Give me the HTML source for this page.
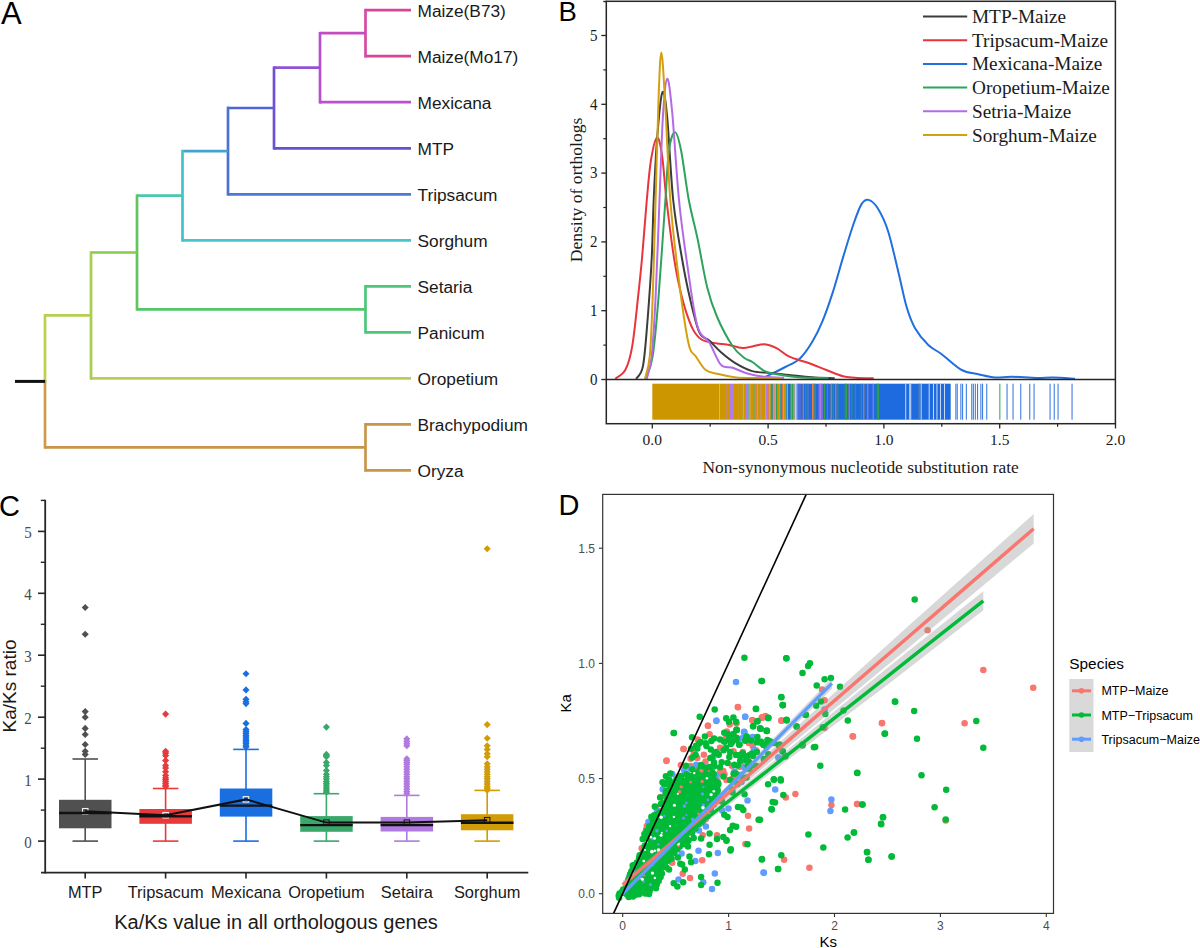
<!DOCTYPE html>
<html><head><meta charset="utf-8"><style>
html,body{margin:0;padding:0;background:#fff;width:1200px;height:948px;overflow:hidden}
svg{display:block}
</style></head><body>
<svg width="1200" height="948" viewBox="0 0 1200 948">
<rect width="1200" height="948" fill="#fff"/>
<line x1="365.5" y1="10.2" x2="411" y2="10.2" stroke="#d9449a" stroke-width="2.7"/>
<line x1="365.5" y1="56.2" x2="411" y2="56.2" stroke="#d9449a" stroke-width="2.7"/>
<line x1="365.5" y1="8.8" x2="365.5" y2="57.6" stroke="#d24aa6" stroke-width="2.7"/>
<line x1="320" y1="33.2" x2="365.5" y2="33.2" stroke="#c44cc0" stroke-width="2.7"/>
<line x1="320" y1="102.2" x2="411" y2="102.2" stroke="#bb4fd0" stroke-width="2.7"/>
<line x1="320" y1="31.9" x2="320" y2="103.6" stroke="#b750cf" stroke-width="2.7"/>
<line x1="274" y1="67.7" x2="320" y2="67.7" stroke="#9352d6" stroke-width="2.7"/>
<line x1="274" y1="148.3" x2="411" y2="148.3" stroke="#6650d2" stroke-width="2.7"/>
<line x1="274" y1="66.4" x2="274" y2="149.6" stroke="#7150d4" stroke-width="2.7"/>
<line x1="228" y1="108" x2="274" y2="108" stroke="#5362d4" stroke-width="2.7"/>
<line x1="228" y1="194.3" x2="411" y2="194.3" stroke="#4a7ad4" stroke-width="2.7"/>
<line x1="228" y1="106.6" x2="228" y2="195.6" stroke="#4a72d4" stroke-width="2.7"/>
<line x1="182.5" y1="151.1" x2="228" y2="151.1" stroke="#47a2d0" stroke-width="2.7"/>
<line x1="182.5" y1="240.3" x2="411" y2="240.3" stroke="#45c6cf" stroke-width="2.7"/>
<line x1="182.5" y1="149.8" x2="182.5" y2="241.7" stroke="#44c2cc" stroke-width="2.7"/>
<line x1="137" y1="195.7" x2="182.5" y2="195.7" stroke="#4ac8ac" stroke-width="2.7"/>
<line x1="365.5" y1="286.3" x2="411" y2="286.3" stroke="#4cc77a" stroke-width="2.7"/>
<line x1="365.5" y1="332.3" x2="411" y2="332.3" stroke="#4cc77a" stroke-width="2.7"/>
<line x1="365.5" y1="285" x2="365.5" y2="333.7" stroke="#4cc77a" stroke-width="2.7"/>
<line x1="137" y1="309.3" x2="365.5" y2="309.3" stroke="#52c66a" stroke-width="2.7"/>
<line x1="137" y1="194.4" x2="137" y2="310.7" stroke="#5ec65c" stroke-width="2.7"/>
<line x1="91" y1="252.5" x2="137" y2="252.5" stroke="#86ca50" stroke-width="2.7"/>
<line x1="91" y1="378.4" x2="411" y2="378.4" stroke="#bad052" stroke-width="2.7"/>
<line x1="91" y1="251.2" x2="91" y2="379.7" stroke="#a6cf50" stroke-width="2.7"/>
<line x1="45" y1="315.4" x2="91" y2="315.4" stroke="#b4d050" stroke-width="2.7"/>
<line x1="45" y1="314.1" x2="45" y2="382.8" stroke="#bcd050" stroke-width="2.7"/>
<line x1="45" y1="380.1" x2="45" y2="448.7" stroke="#cf9a4c" stroke-width="2.7"/>
<line x1="45" y1="447.4" x2="365.5" y2="447.4" stroke="#c9954a" stroke-width="2.7"/>
<line x1="365.5" y1="423" x2="365.5" y2="471.8" stroke="#c9954a" stroke-width="2.7"/>
<line x1="365.5" y1="424.4" x2="411" y2="424.4" stroke="#c9954a" stroke-width="2.7"/>
<line x1="365.5" y1="470.4" x2="411" y2="470.4" stroke="#c9954a" stroke-width="2.7"/>
<line x1="15" y1="381.4" x2="45" y2="381.4" stroke="#111" stroke-width="3"/>
<text x="417.5" y="17.2" font-family="'Liberation Sans', sans-serif" font-size="17.3" fill="#1a1a1a">Maize(B73)</text>
<text x="417.5" y="63.2" font-family="'Liberation Sans', sans-serif" font-size="17.3" fill="#1a1a1a">Maize(Mo17)</text>
<text x="417.5" y="109.2" font-family="'Liberation Sans', sans-serif" font-size="17.3" fill="#1a1a1a">Mexicana</text>
<text x="417.5" y="155.3" font-family="'Liberation Sans', sans-serif" font-size="17.3" fill="#1a1a1a">MTP</text>
<text x="417.5" y="201.3" font-family="'Liberation Sans', sans-serif" font-size="17.3" fill="#1a1a1a">Tripsacum</text>
<text x="417.5" y="247.3" font-family="'Liberation Sans', sans-serif" font-size="17.3" fill="#1a1a1a">Sorghum</text>
<text x="417.5" y="293.3" font-family="'Liberation Sans', sans-serif" font-size="17.3" fill="#1a1a1a">Setaria</text>
<text x="417.5" y="339.3" font-family="'Liberation Sans', sans-serif" font-size="17.3" fill="#1a1a1a">Panicum</text>
<text x="417.5" y="385.4" font-family="'Liberation Sans', sans-serif" font-size="17.3" fill="#1a1a1a">Oropetium</text>
<text x="417.5" y="431.4" font-family="'Liberation Sans', sans-serif" font-size="17.3" fill="#1a1a1a">Brachypodium</text>
<text x="417.5" y="477.4" font-family="'Liberation Sans', sans-serif" font-size="17.3" fill="#1a1a1a">Oryza</text>
<text x="1" y="23.6" font-family="'Liberation Sans', sans-serif" font-size="31" fill="#000">A</text>
<rect x="652.3" y="383.7" width="67.2" height="36" fill="#cc9600"/>
<rect x="719.3" y="383.7" width="0.9" height="36" fill="#e0a868"/>
<rect x="720" y="383.7" width="6.2" height="36" fill="#cc9600"/>
<rect x="726" y="383.7" width="2.1" height="36" fill="#c98a55"/>
<rect x="728" y="383.7" width="2.1" height="36" fill="#cc9600"/>
<rect x="730" y="383.7" width="4.2" height="36" fill="#b37be6"/>
<rect x="734" y="383.7" width="4.9" height="36" fill="#cc9600"/>
<rect x="738.7" y="383.7" width="1.4" height="36" fill="#d68040"/>
<rect x="740" y="383.7" width="2.9" height="36" fill="#cc9600"/>
<rect x="742.7" y="383.7" width="0.9" height="36" fill="#9a9a48"/>
<rect x="743.5" y="383.7" width="2.6" height="36" fill="#cc9600"/>
<rect x="746" y="383.7" width="2.4" height="36" fill="#b37be6"/>
<rect x="748.3" y="383.7" width="1.1" height="36" fill="#40a080"/>
<rect x="749.2" y="383.7" width="1.6" height="36" fill="#cc9600"/>
<rect x="750.7" y="383.7" width="1.4" height="36" fill="#e08040"/>
<rect x="752" y="383.7" width="1.4" height="36" fill="#cc9600"/>
<rect x="753.3" y="383.7" width="1.5" height="36" fill="#30a050"/>
<rect x="754.6" y="383.7" width="1.5" height="36" fill="#cc9600"/>
<rect x="756" y="383.7" width="1.4" height="36" fill="#e08040"/>
<rect x="757.3" y="383.7" width="3.6" height="36" fill="#cc9600"/>
<rect x="760.7" y="383.7" width="1.4" height="36" fill="#b37be6"/>
<rect x="762" y="383.7" width="3.4" height="36" fill="#cc9600"/>
<rect x="765.3" y="383.7" width="2.9" height="36" fill="#b37be6"/>
<rect x="768" y="383.7" width="1.4" height="36" fill="#e08040"/>
<rect x="769.3" y="383.7" width="1.6" height="36" fill="#cc9600"/>
<rect x="770.7" y="383.7" width="2.7" height="36" fill="#409090"/>
<rect x="773.3" y="383.7" width="1.6" height="36" fill="#e08040"/>
<rect x="774.7" y="383.7" width="0.9" height="36" fill="#b37be6"/>
<rect x="775.5" y="383.7" width="0.7" height="36" fill="#cc9600"/>
<rect x="776" y="383.7" width="1.4" height="36" fill="#30a050"/>
<rect x="777.3" y="383.7" width="0.9" height="36" fill="#4080e0"/>
<rect x="778" y="383.7" width="1.4" height="36" fill="#cc9600"/>
<rect x="779.3" y="383.7" width="1.9" height="36" fill="#40a090"/>
<rect x="781" y="383.7" width="1.1" height="36" fill="#30a050"/>
<rect x="782" y="383.7" width="1.4" height="36" fill="#e07040"/>
<rect x="783.3" y="383.7" width="2.1" height="36" fill="#cc9600"/>
<rect x="785.3" y="383.7" width="1.6" height="36" fill="#409090"/>
<rect x="786.7" y="383.7" width="0.7" height="36" fill="#1e6be0"/>
<rect x="787.3" y="383.7" width="0.9" height="36" fill="#b37be6"/>
<rect x="788" y="383.7" width="2.1" height="36" fill="#1e6be0"/>
<rect x="790" y="383.7" width="1.6" height="36" fill="#409090"/>
<rect x="791.5" y="383.7" width="1.6" height="36" fill="#30a050"/>
<rect x="793" y="383.7" width="1.6" height="36" fill="#e08040"/>
<rect x="794.5" y="383.7" width="1.1" height="36" fill="#409090"/>
<rect x="795.5" y="383.7" width="1.1" height="36" fill="#f4f4ff"/>
<rect x="796.5" y="383.7" width="154.2" height="36" fill="#1e6be0"/>
<rect x="797.3" y="383.7" width="1" height="36" fill="#b37be6"/>
<rect x="799.5" y="383.7" width="1" height="36" fill="#7a6ae0"/>
<rect x="802.7" y="383.7" width="1" height="36" fill="#e08040"/>
<rect x="805.3" y="383.7" width="1" height="36" fill="#30a050"/>
<rect x="807.5" y="383.7" width="1" height="36" fill="#6a70e0"/>
<rect x="812" y="383.7" width="1" height="36" fill="#e08040"/>
<rect x="813.3" y="383.7" width="1" height="36" fill="#e08040"/>
<rect x="814.7" y="383.7" width="1" height="36" fill="#30a050"/>
<rect x="818.7" y="383.7" width="1" height="36" fill="#b37be6"/>
<rect x="820" y="383.7" width="1" height="36" fill="#b37be6"/>
<rect x="821.5" y="383.7" width="1" height="36" fill="#b37be6"/>
<rect x="824" y="383.7" width="1" height="36" fill="#30a050"/>
<rect x="827" y="383.7" width="1" height="36" fill="#409090"/>
<rect x="830.7" y="383.7" width="1" height="36" fill="#e08040"/>
<rect x="832.7" y="383.7" width="1" height="36" fill="#30a050"/>
<rect x="835.3" y="383.7" width="1" height="36" fill="#e08040"/>
<rect x="837.3" y="383.7" width="1" height="36" fill="#30a050"/>
<rect x="844.7" y="383.7" width="1" height="36" fill="#30a050"/>
<rect x="846" y="383.7" width="1" height="36" fill="#30a050"/>
<rect x="848.7" y="383.7" width="1" height="36" fill="#e08040"/>
<rect x="851.3" y="383.7" width="1" height="36" fill="#30a050"/>
<rect x="854.7" y="383.7" width="1" height="36" fill="#409090"/>
<rect x="860.7" y="383.7" width="1" height="36" fill="#409090"/>
<rect x="863.3" y="383.7" width="1" height="36" fill="#e08040"/>
<rect x="867.3" y="383.7" width="1" height="36" fill="#b37be6"/>
<rect x="872.7" y="383.7" width="1" height="36" fill="#b37be6"/>
<rect x="876.7" y="383.7" width="1" height="36" fill="#30a050"/>
<rect x="878" y="383.7" width="1" height="36" fill="#30a050"/>
<rect x="905.3" y="383.7" width="0.9" height="36" fill="#d8e6fb"/>
<rect x="909.3" y="383.7" width="0.9" height="36" fill="#d8e6fb"/>
<rect x="910.3" y="383.7" width="0.9" height="36" fill="#d8e6fb"/>
<rect x="920.7" y="383.7" width="0.9" height="36" fill="#d8e6fb"/>
<rect x="928.7" y="383.7" width="0.9" height="36" fill="#d8e6fb"/>
<rect x="933" y="383.7" width="0.9" height="36" fill="#d8e6fb"/>
<rect x="936.5" y="383.7" width="0.9" height="36" fill="#d8e6fb"/>
<rect x="940" y="383.7" width="0.9" height="36" fill="#d8e6fb"/>
<rect x="944" y="383.7" width="0.9" height="36" fill="#d8e6fb"/>
<rect x="918.7" y="383.7" width="1" height="36" fill="#7a8a60"/>
<rect x="955.3" y="383.7" width="1.1" height="36" fill="#3f7fe6"/>
<rect x="956.7" y="383.7" width="1.1" height="36" fill="#3f7fe6"/>
<rect x="960.3" y="383.7" width="1.1" height="36" fill="#3f7fe6"/>
<rect x="962" y="383.7" width="1.1" height="36" fill="#3f7fe6"/>
<rect x="965.8" y="383.7" width="1.1" height="36" fill="#3f7fe6"/>
<rect x="971.2" y="383.7" width="1.1" height="36" fill="#3f7fe6"/>
<rect x="972.8" y="383.7" width="1.1" height="36" fill="#3f7fe6"/>
<rect x="974.8" y="383.7" width="1.1" height="36" fill="#3f7fe6"/>
<rect x="977" y="383.7" width="1.1" height="36" fill="#3f7fe6"/>
<rect x="980.3" y="383.7" width="1.1" height="36" fill="#3f7fe6"/>
<rect x="982" y="383.7" width="1.1" height="36" fill="#3f7fe6"/>
<rect x="986.2" y="383.7" width="1.1" height="36" fill="#3f7fe6"/>
<rect x="1006.5" y="383.7" width="1.1" height="36" fill="#3f7fe6"/>
<rect x="1012.5" y="383.7" width="1.1" height="36" fill="#3f7fe6"/>
<rect x="1020.2" y="383.7" width="1.1" height="36" fill="#3f7fe6"/>
<rect x="1029.2" y="383.7" width="1.1" height="36" fill="#3f7fe6"/>
<rect x="1033.5" y="383.7" width="1.1" height="36" fill="#3f7fe6"/>
<rect x="1049.5" y="383.7" width="1.1" height="36" fill="#3f7fe6"/>
<rect x="1053.7" y="383.7" width="1.1" height="36" fill="#3f7fe6"/>
<rect x="1057.5" y="383.7" width="1.1" height="36" fill="#3f7fe6"/>
<rect x="1071.5" y="383.7" width="1.1" height="36" fill="#3f7fe6"/>
<rect x="999.3" y="383.7" width="1.1" height="36" fill="#3aa860"/>
<path d="M764.7 377.4 C765.7 376.9 767.5 375.9 770.9 374.2 C774.3 372.5 780.5 369.6 785.3 367 C790.1 364.4 795.2 362.8 799.7 358.7 C804.2 354.6 808.2 348.5 812 342.3 C815.8 336.1 818.9 329.9 822.3 321.7 C825.7 313.5 829.2 303.5 832.6 292.9 C836 282.3 839.5 269.2 842.9 257.9 C846.3 246.6 850.1 233.9 853.2 225 C856.3 216.1 858.8 208.6 861.4 204.4 C864 200.2 865.9 199.2 868.6 199.9 C871.4 200.6 874.6 203.3 877.9 208.5 C881.1 213.7 884.7 220.6 888.1 231.2 C891.5 241.8 895.3 259.6 898.4 272.3 C901.5 285 904 298 906.7 307.3 C909.5 316.6 911.3 321.6 914.9 327.9 C918.5 334.2 923.8 340.6 928.3 345 C932.8 349.4 936.1 350 941.7 354.2 C947.3 358.4 955.6 366.7 961.7 370 C967.8 373.3 972.8 372.9 978.3 374.2 C983.8 375.4 989.4 377.1 995 377.5 C1000.6 377.9 1004.8 376.6 1011.7 376.7 C1018.7 376.8 1029.8 377.9 1036.7 378 C1043.6 378.1 1046.9 377.4 1053.3 377.5 C1059.7 377.6 1071.4 378.5 1075 378.7" fill="none" stroke="#1f6fe0" stroke-width="2"/>
<path d="M615.2 378.8 C616.9 377.3 622.6 375.2 625.4 369.8 C628.2 364.4 630.1 358.3 632.2 346.3 C634.3 334.3 636.4 312.2 638 297.6 C639.6 283 640.5 274.8 642 258.5 C643.5 242.2 645.3 216.4 646.8 200 C648.3 183.6 649.3 170.4 651 160 C652.7 149.6 655.2 138.4 657 137.6 C658.8 136.8 660.4 144.6 662 155 C663.6 165.4 664.5 182.8 666.5 200 C668.5 217.2 671.5 242.2 674.1 258.5 C676.7 274.8 679.1 286.2 682 297.6 C684.9 309 688.5 319.8 691.7 326.8 C695 333.8 697.3 336.7 701.5 339.5 C705.7 342.3 712.8 342.6 717 343.4 C721.2 344.2 722.6 343.6 726.8 344.4 C731 345.1 738.1 347.6 742.4 347.9 C746.6 348.2 748.6 347 752.3 346.4 C756 345.8 760.6 344 764.7 344.3 C768.8 344.6 772.9 346.3 777 348.4 C781.1 350.5 784.2 354.3 789.4 356.7 C794.5 359.1 801.7 360.6 807.9 362.8 C814.1 365 820.6 367.8 826.4 370 C832.2 372.2 838.1 374.9 842.9 376.2 C847.7 377.5 850.1 377.3 855.2 377.7 C860.3 378.1 870.6 378.2 873.7 378.3" fill="none" stroke="#e8343a" stroke-width="2"/>
<path d="M636.1 378.8 C637.2 376.6 641 376.2 643 365.9 C645 355.6 646.3 334.9 647.8 317 C649.2 299.1 650.7 278 651.7 258.5 C652.7 239 652.8 219.8 653.7 200 C654.6 180.2 655.6 157.9 657 140 C658.4 122.1 660.5 97 662.2 92.8 C663.9 88.6 665.2 97.1 667 115 C668.8 132.9 670.7 176.1 673.2 200 C675.7 223.9 679.2 242.2 682 258.5 C684.8 274.8 686.9 285.2 689.8 297.6 C692.7 310 696.2 325.6 699.5 332.7 C702.8 339.8 705.7 337.2 709.3 340.5 C712.9 343.8 716.5 348.3 721 352.2 C725.5 356.1 731.4 360.8 736.6 363.9 C741.8 367 746.6 369.6 752.3 371.1 C758 372.6 764.4 372.4 770.9 373.1 C777.4 373.8 784.5 374.5 791.4 375.2 C798.2 375.9 804.8 376.7 812 377.2 C819.2 377.7 830.9 378.1 834.7 378.3" fill="none" stroke="#3c3c3c" stroke-width="2"/>
<path d="M645.9 378.8 C647 375 650.6 369.5 652.7 356 C654.8 342.5 656.4 323.6 658.5 297.6 C660.6 271.6 663.6 224.6 665.4 200 C667.1 175.4 667.4 161.3 669 150 C670.6 138.7 673 132.2 675 132.2 C677 132.2 678.7 138.7 681 150 C683.3 161.3 686 185.2 688.8 200 C691.6 214.8 694.5 224.4 697.6 239 C700.7 253.6 704 274.8 707.3 287.8 C710.5 300.8 712.9 307.2 717.1 317 C721.3 326.8 728.2 339.5 732.7 346.3 C737.2 353.1 741.1 355.4 744.4 358 C747.7 360.6 748.9 359.8 752.3 362 C755.7 364.2 760.6 369.1 764.7 371.1 C768.8 373.1 771.5 373.2 777 374.2 C782.5 375.2 789 376.5 797.6 377.2 C806.2 377.9 823.4 378.1 828.5 378.3" fill="none" stroke="#2ea35c" stroke-width="2"/>
<path d="M646.8 378.8 C647.6 375 650.2 369.5 651.7 356 C653.2 342.5 654.3 323.6 655.6 297.6 C656.9 271.6 658.3 230.4 659.5 200 C660.7 169.6 661.7 135.2 663 115 C664.3 94.8 665.6 79.6 667.1 78.8 C668.6 78 670 89.8 672 110 C674 130.2 676.4 173.6 679 200 C681.6 226.4 684.7 247.2 687.8 268.3 C690.9 289.4 694 314.5 697.6 326.8 C701.2 339.1 705.4 336 709.3 342.4 C713.2 348.8 717.1 360.7 721 364.9 C724.9 369.1 728.2 366.3 732.7 367.8 C737.2 369.3 743 372.2 748.3 373.7 C753.6 375.2 758.7 376.1 764.7 376.8 C770.7 377.5 781 377.6 784.2 377.7" fill="none" stroke="#b46ae6" stroke-width="2"/>
<path d="M644.9 378.8 C645.7 375 648.5 369.5 649.8 356 C651.1 342.5 651.7 323.6 652.7 297.6 C653.7 271.6 654.6 232.9 655.6 200 C656.6 167.1 657.5 124.6 658.5 100 C659.5 75.4 660.2 52.4 661.3 52.4 C662.4 52.4 663.5 75.4 665 100 C666.5 124.6 668.2 171.9 670.3 200 C672.4 228.1 675.2 248.8 677.5 268.3 C679.8 287.8 681.9 303.7 683.9 317 C685.9 330.3 687.8 341.8 689.8 348.3 C691.8 354.8 693 352.5 695.6 356.1 C698.2 359.7 701.8 366.9 705.4 369.8 C709 372.7 711.8 372.4 717 373.7 C722.2 375 729.3 376.9 736.6 377.6 C743.9 378.3 753 377.8 760.6 377.9 C768.2 378 778.4 378.2 782 378.3" fill="none" stroke="#d4a012" stroke-width="2"/>
<rect x="606.3" y="1.3" width="509.1" height="422.4" fill="none" stroke="#262626" stroke-width="1.5"/>
<line x1="603.3" y1="1.5" x2="607" y2="1.5" stroke="#262626" stroke-width="1.4"/>
<line x1="606.3" y1="379.5" x2="1115.4" y2="379.5" stroke="#262626" stroke-width="1.6"/>
<line x1="601.3" y1="379.5" x2="606.3" y2="379.5" stroke="#262626" stroke-width="1.3"/>
<text transform="translate(597.5 384.7) scale(1 1.17)" font-family="'Liberation Serif', serif" font-size="15" fill="#1a1a1a" text-anchor="end">0</text>
<line x1="601.3" y1="310.7" x2="606.3" y2="310.7" stroke="#262626" stroke-width="1.3"/>
<text transform="translate(597.5 315.9) scale(1 1.17)" font-family="'Liberation Serif', serif" font-size="15" fill="#1a1a1a" text-anchor="end">1</text>
<line x1="601.3" y1="241.9" x2="606.3" y2="241.9" stroke="#262626" stroke-width="1.3"/>
<text transform="translate(597.5 247.1) scale(1 1.17)" font-family="'Liberation Serif', serif" font-size="15" fill="#1a1a1a" text-anchor="end">2</text>
<line x1="601.3" y1="173.1" x2="606.3" y2="173.1" stroke="#262626" stroke-width="1.3"/>
<text transform="translate(597.5 178.3) scale(1 1.17)" font-family="'Liberation Serif', serif" font-size="15" fill="#1a1a1a" text-anchor="end">3</text>
<line x1="601.3" y1="104.3" x2="606.3" y2="104.3" stroke="#262626" stroke-width="1.3"/>
<text transform="translate(597.5 109.5) scale(1 1.17)" font-family="'Liberation Serif', serif" font-size="15" fill="#1a1a1a" text-anchor="end">4</text>
<line x1="601.3" y1="35.5" x2="606.3" y2="35.5" stroke="#262626" stroke-width="1.3"/>
<text transform="translate(597.5 40.7) scale(1 1.17)" font-family="'Liberation Serif', serif" font-size="15" fill="#1a1a1a" text-anchor="end">5</text>
<line x1="603.3" y1="345.1" x2="606.3" y2="345.1" stroke="#262626" stroke-width="1.2"/>
<line x1="603.3" y1="276.3" x2="606.3" y2="276.3" stroke="#262626" stroke-width="1.2"/>
<line x1="603.3" y1="207.5" x2="606.3" y2="207.5" stroke="#262626" stroke-width="1.2"/>
<line x1="603.3" y1="138.7" x2="606.3" y2="138.7" stroke="#262626" stroke-width="1.2"/>
<line x1="603.3" y1="69.9" x2="606.3" y2="69.9" stroke="#262626" stroke-width="1.2"/>
<line x1="652.3" y1="423.7" x2="652.3" y2="428.5" stroke="#262626" stroke-width="1.3"/>
<text x="652.3" y="445.3" font-family="'Liberation Serif', serif" font-size="15.5" fill="#1a1a1a" text-anchor="middle">0.0</text>
<line x1="768.1" y1="423.7" x2="768.1" y2="428.5" stroke="#262626" stroke-width="1.3"/>
<text x="768.1" y="445.3" font-family="'Liberation Serif', serif" font-size="15.5" fill="#1a1a1a" text-anchor="middle">0.5</text>
<line x1="883.9" y1="423.7" x2="883.9" y2="428.5" stroke="#262626" stroke-width="1.3"/>
<text x="883.9" y="445.3" font-family="'Liberation Serif', serif" font-size="15.5" fill="#1a1a1a" text-anchor="middle">1.0</text>
<line x1="999.7" y1="423.7" x2="999.7" y2="428.5" stroke="#262626" stroke-width="1.3"/>
<text x="999.7" y="445.3" font-family="'Liberation Serif', serif" font-size="15.5" fill="#1a1a1a" text-anchor="middle">1.5</text>
<line x1="1115.5" y1="423.7" x2="1115.5" y2="428.5" stroke="#262626" stroke-width="1.3"/>
<text x="1115.5" y="445.3" font-family="'Liberation Serif', serif" font-size="15.5" fill="#1a1a1a" text-anchor="middle">2.0</text>
<line x1="710.2" y1="423.7" x2="710.2" y2="426.8" stroke="#262626" stroke-width="1.2"/>
<line x1="826" y1="423.7" x2="826" y2="426.8" stroke="#262626" stroke-width="1.2"/>
<line x1="941.8" y1="423.7" x2="941.8" y2="426.8" stroke="#262626" stroke-width="1.2"/>
<line x1="1057.6" y1="423.7" x2="1057.6" y2="426.8" stroke="#262626" stroke-width="1.2"/>
<text x="860.6" y="472.5" font-family="'Liberation Serif', serif" font-size="17.4" fill="#1a1a1a" text-anchor="middle">Non-synonymous nucleotide substitution rate</text>
<text transform="translate(582.3 190) rotate(-90)" font-family="'Liberation Serif', serif" font-size="17.6" fill="#1a1a1a" text-anchor="middle">Density of orthologs</text>
<text x="558.5" y="20.75" font-family="'Liberation Sans', sans-serif" font-size="27.5" fill="#000">B</text>
<line x1="923" y1="16.5" x2="967.2" y2="16.5" stroke="#3c3c3c" stroke-width="2"/>
<text x="972" y="23" font-family="'Liberation Serif', serif" font-size="19.25" fill="#1a1a1a">MTP-Maize</text>
<line x1="923" y1="40.2" x2="967.2" y2="40.2" stroke="#e8343a" stroke-width="2"/>
<text x="972" y="46.7" font-family="'Liberation Serif', serif" font-size="19.25" fill="#1a1a1a">Tripsacum-Maize</text>
<line x1="923" y1="63.9" x2="967.2" y2="63.9" stroke="#1f6fe0" stroke-width="2"/>
<text x="972" y="70.4" font-family="'Liberation Serif', serif" font-size="19.25" fill="#1a1a1a">Mexicana-Maize</text>
<line x1="923" y1="87.6" x2="967.2" y2="87.6" stroke="#2ea35c" stroke-width="2"/>
<text x="972" y="94.1" font-family="'Liberation Serif', serif" font-size="19.25" fill="#1a1a1a">Oropetium-Maize</text>
<line x1="923" y1="111.3" x2="967.2" y2="111.3" stroke="#b46ae6" stroke-width="2"/>
<text x="972" y="117.8" font-family="'Liberation Serif', serif" font-size="19.25" fill="#1a1a1a">Setria-Maize</text>
<line x1="923" y1="135" x2="967.2" y2="135" stroke="#d4a012" stroke-width="2"/>
<text x="972" y="141.5" font-family="'Liberation Serif', serif" font-size="19.25" fill="#1a1a1a">Sorghum-Maize</text>
<line x1="85.2" y1="759" x2="85.2" y2="841.1" stroke="#505050" stroke-width="1.6"/>
<line x1="72.5" y1="759" x2="98" y2="759" stroke="#505050" stroke-width="1.6"/>
<line x1="72.5" y1="841.1" x2="98" y2="841.1" stroke="#505050" stroke-width="1.6"/>
<rect x="59" y="799.8" width="52.5" height="28.5" fill="#505050"/>
<rect x="82.5" y="808.5" width="5.5" height="5.5" fill="none" stroke="#f0f0f0" stroke-width="1.1"/>
<line x1="59" y1="813" x2="111.5" y2="813" stroke="#111" stroke-width="2.4"/>
<rect x="82.7" y="605" width="5" height="5" fill="#505050" transform="rotate(45 85.2 607.5)"/>
<rect x="82.7" y="631.7" width="5" height="5" fill="#505050" transform="rotate(45 85.2 634.2)"/>
<rect x="82.7" y="709.1" width="5" height="5" fill="#505050" transform="rotate(45 85.2 711.6)"/>
<rect x="82.7" y="714.7" width="5" height="5" fill="#505050" transform="rotate(45 85.2 717.2)"/>
<rect x="82.7" y="725.9" width="5" height="5" fill="#505050" transform="rotate(45 85.2 728.4)"/>
<rect x="82.7" y="732" width="5" height="5" fill="#505050" transform="rotate(45 85.2 734.5)"/>
<rect x="82.7" y="742" width="5" height="5" fill="#505050" transform="rotate(45 85.2 744.5)"/>
<rect x="82.7" y="748.8" width="5" height="5" fill="#505050" transform="rotate(45 85.2 751.3)"/>
<rect x="82.7" y="751.9" width="5" height="5" fill="#505050" transform="rotate(45 85.2 754.4)"/>
<line x1="165.6" y1="788.5" x2="165.6" y2="841.1" stroke="#e8393b" stroke-width="1.6"/>
<line x1="152.9" y1="788.5" x2="178.4" y2="788.5" stroke="#e8393b" stroke-width="1.6"/>
<line x1="152.9" y1="841.1" x2="178.4" y2="841.1" stroke="#e8393b" stroke-width="1.6"/>
<rect x="139.4" y="809" width="52.5" height="14.8" fill="#e8393b"/>
<rect x="162.9" y="812.5" width="5.5" height="5.5" fill="none" stroke="#f0f0f0" stroke-width="1.1"/>
<line x1="139.4" y1="816.2" x2="191.9" y2="816.2" stroke="#111" stroke-width="2.4"/>
<rect x="163.1" y="711.6" width="5" height="5" fill="#e8393b" transform="rotate(45 165.6 714.1)"/>
<rect x="163.1" y="748.8" width="5" height="5" fill="#e8393b" transform="rotate(45 165.6 751.3)"/>
<rect x="163.1" y="750.6" width="5" height="5" fill="#e8393b" transform="rotate(45 165.6 753.1)"/>
<rect x="163.1" y="753.1" width="5" height="5" fill="#e8393b" transform="rotate(45 165.6 755.6)"/>
<rect x="163.1" y="758.1" width="5" height="5" fill="#e8393b" transform="rotate(45 165.6 760.6)"/>
<rect x="163.1" y="763" width="5" height="5" fill="#e8393b" transform="rotate(45 165.6 765.5)"/>
<rect x="163.1" y="765.5" width="5" height="5" fill="#e8393b" transform="rotate(45 165.6 768)"/>
<rect x="163.1" y="769.2" width="5" height="5" fill="#e8393b" transform="rotate(45 165.6 771.7)"/>
<rect x="163.1" y="772.9" width="5" height="5" fill="#e8393b" transform="rotate(45 165.6 775.4)"/>
<rect x="163.1" y="775.4" width="5" height="5" fill="#e8393b" transform="rotate(45 165.6 777.9)"/>
<rect x="163.1" y="777.3" width="5" height="5" fill="#e8393b" transform="rotate(45 165.6 779.8)"/>
<rect x="163.1" y="779.1" width="5" height="5" fill="#e8393b" transform="rotate(45 165.6 781.6)"/>
<rect x="163.1" y="781" width="5" height="5" fill="#e8393b" transform="rotate(45 165.6 783.5)"/>
<rect x="163.1" y="782.8" width="5" height="5" fill="#e8393b" transform="rotate(45 165.6 785.3)"/>
<rect x="163.1" y="784.1" width="5" height="5" fill="#e8393b" transform="rotate(45 165.6 786.6)"/>
<line x1="246" y1="749.4" x2="246" y2="841.1" stroke="#1a6fe0" stroke-width="1.6"/>
<line x1="233.2" y1="749.4" x2="258.8" y2="749.4" stroke="#1a6fe0" stroke-width="1.6"/>
<line x1="233.2" y1="841.1" x2="258.8" y2="841.1" stroke="#1a6fe0" stroke-width="1.6"/>
<rect x="219.8" y="788.5" width="52.5" height="28.1" fill="#1a6fe0"/>
<rect x="243.2" y="796.6" width="5.5" height="5.5" fill="none" stroke="#f0f0f0" stroke-width="1.1"/>
<line x1="219.8" y1="805.6" x2="272.2" y2="805.6" stroke="#111" stroke-width="2.4"/>
<rect x="243.5" y="671.3" width="5" height="5" fill="#1a6fe0" transform="rotate(45 246 673.8)"/>
<rect x="243.5" y="687.4" width="5" height="5" fill="#1a6fe0" transform="rotate(45 246 689.9)"/>
<rect x="243.5" y="696.7" width="5" height="5" fill="#1a6fe0" transform="rotate(45 246 699.2)"/>
<rect x="243.5" y="699.2" width="5" height="5" fill="#1a6fe0" transform="rotate(45 246 701.7)"/>
<rect x="243.5" y="701.1" width="5" height="5" fill="#1a6fe0" transform="rotate(45 246 703.6)"/>
<rect x="243.5" y="720.9" width="5" height="5" fill="#1a6fe0" transform="rotate(45 246 723.4)"/>
<rect x="243.5" y="727.1" width="5" height="5" fill="#1a6fe0" transform="rotate(45 246 729.6)"/>
<rect x="243.5" y="728.9" width="5" height="5" fill="#1a6fe0" transform="rotate(45 246 731.4)"/>
<rect x="243.5" y="730.8" width="5" height="5" fill="#1a6fe0" transform="rotate(45 246 733.3)"/>
<rect x="243.5" y="732.7" width="5" height="5" fill="#1a6fe0" transform="rotate(45 246 735.2)"/>
<rect x="243.5" y="734.5" width="5" height="5" fill="#1a6fe0" transform="rotate(45 246 737)"/>
<rect x="243.5" y="736.4" width="5" height="5" fill="#1a6fe0" transform="rotate(45 246 738.9)"/>
<rect x="243.5" y="738.2" width="5" height="5" fill="#1a6fe0" transform="rotate(45 246 740.7)"/>
<rect x="243.5" y="739.5" width="5" height="5" fill="#1a6fe0" transform="rotate(45 246 742)"/>
<rect x="243.5" y="741.3" width="5" height="5" fill="#1a6fe0" transform="rotate(45 246 743.8)"/>
<rect x="243.5" y="743.2" width="5" height="5" fill="#1a6fe0" transform="rotate(45 246 745.7)"/>
<rect x="243.5" y="744.4" width="5" height="5" fill="#1a6fe0" transform="rotate(45 246 746.9)"/>
<line x1="326.4" y1="793.7" x2="326.4" y2="841.1" stroke="#3aa86a" stroke-width="1.6"/>
<line x1="313.7" y1="793.7" x2="339.2" y2="793.7" stroke="#3aa86a" stroke-width="1.6"/>
<line x1="313.7" y1="841.1" x2="339.2" y2="841.1" stroke="#3aa86a" stroke-width="1.6"/>
<rect x="300.2" y="816.1" width="52.5" height="15.7" fill="#3aa86a"/>
<rect x="323.7" y="819.9" width="5.5" height="5.5" fill="none" stroke="#222" stroke-width="1.1"/>
<line x1="300.2" y1="825.1" x2="352.7" y2="825.1" stroke="#111" stroke-width="2.4"/>
<rect x="323.9" y="724.6" width="5" height="5" fill="#3aa86a" transform="rotate(45 326.4 727.1)"/>
<rect x="323.9" y="751.9" width="5" height="5" fill="#3aa86a" transform="rotate(45 326.4 754.4)"/>
<rect x="323.9" y="753.1" width="5" height="5" fill="#3aa86a" transform="rotate(45 326.4 755.6)"/>
<rect x="323.9" y="754.3" width="5" height="5" fill="#3aa86a" transform="rotate(45 326.4 756.8)"/>
<rect x="323.9" y="759.9" width="5" height="5" fill="#3aa86a" transform="rotate(45 326.4 762.4)"/>
<rect x="323.9" y="763" width="5" height="5" fill="#3aa86a" transform="rotate(45 326.4 765.5)"/>
<rect x="323.9" y="768" width="5" height="5" fill="#3aa86a" transform="rotate(45 326.4 770.5)"/>
<rect x="323.9" y="771.7" width="5" height="5" fill="#3aa86a" transform="rotate(45 326.4 774.2)"/>
<rect x="323.9" y="774.2" width="5" height="5" fill="#3aa86a" transform="rotate(45 326.4 776.7)"/>
<rect x="323.9" y="776.6" width="5" height="5" fill="#3aa86a" transform="rotate(45 326.4 779.1)"/>
<rect x="323.9" y="779.1" width="5" height="5" fill="#3aa86a" transform="rotate(45 326.4 781.6)"/>
<rect x="323.9" y="781" width="5" height="5" fill="#3aa86a" transform="rotate(45 326.4 783.5)"/>
<rect x="323.9" y="782.8" width="5" height="5" fill="#3aa86a" transform="rotate(45 326.4 785.3)"/>
<rect x="323.9" y="784.7" width="5" height="5" fill="#3aa86a" transform="rotate(45 326.4 787.2)"/>
<rect x="323.9" y="786.6" width="5" height="5" fill="#3aa86a" transform="rotate(45 326.4 789.1)"/>
<rect x="323.9" y="788.4" width="5" height="5" fill="#3aa86a" transform="rotate(45 326.4 790.9)"/>
<rect x="323.9" y="789.7" width="5" height="5" fill="#3aa86a" transform="rotate(45 326.4 792.2)"/>
<line x1="406.8" y1="795.4" x2="406.8" y2="841.1" stroke="#b07ae0" stroke-width="1.6"/>
<line x1="394.1" y1="795.4" x2="419.6" y2="795.4" stroke="#b07ae0" stroke-width="1.6"/>
<line x1="394.1" y1="841.1" x2="419.6" y2="841.1" stroke="#b07ae0" stroke-width="1.6"/>
<rect x="380.6" y="816.9" width="52.5" height="14.6" fill="#b07ae0"/>
<rect x="404.1" y="819.9" width="5.5" height="5.5" fill="none" stroke="#222" stroke-width="1.1"/>
<line x1="380.6" y1="825.1" x2="433.1" y2="825.1" stroke="#111" stroke-width="2.4"/>
<rect x="404.3" y="736.4" width="5" height="5" fill="#b07ae0" transform="rotate(45 406.8 738.9)"/>
<rect x="404.3" y="738.9" width="5" height="5" fill="#b07ae0" transform="rotate(45 406.8 741.4)"/>
<rect x="404.3" y="741.3" width="5" height="5" fill="#b07ae0" transform="rotate(45 406.8 743.8)"/>
<rect x="404.3" y="743.2" width="5" height="5" fill="#b07ae0" transform="rotate(45 406.8 745.7)"/>
<rect x="404.3" y="756.2" width="5" height="5" fill="#b07ae0" transform="rotate(45 406.8 758.7)"/>
<rect x="404.3" y="758.1" width="5" height="5" fill="#b07ae0" transform="rotate(45 406.8 760.6)"/>
<rect x="404.3" y="759.9" width="5" height="5" fill="#b07ae0" transform="rotate(45 406.8 762.4)"/>
<rect x="404.3" y="761.8" width="5" height="5" fill="#b07ae0" transform="rotate(45 406.8 764.3)"/>
<rect x="404.3" y="764.3" width="5" height="5" fill="#b07ae0" transform="rotate(45 406.8 766.8)"/>
<rect x="404.3" y="766.7" width="5" height="5" fill="#b07ae0" transform="rotate(45 406.8 769.2)"/>
<rect x="404.3" y="769.2" width="5" height="5" fill="#b07ae0" transform="rotate(45 406.8 771.7)"/>
<rect x="404.3" y="771.7" width="5" height="5" fill="#b07ae0" transform="rotate(45 406.8 774.2)"/>
<rect x="404.3" y="774.2" width="5" height="5" fill="#b07ae0" transform="rotate(45 406.8 776.7)"/>
<rect x="404.3" y="776.6" width="5" height="5" fill="#b07ae0" transform="rotate(45 406.8 779.1)"/>
<rect x="404.3" y="779.1" width="5" height="5" fill="#b07ae0" transform="rotate(45 406.8 781.6)"/>
<rect x="404.3" y="781.6" width="5" height="5" fill="#b07ae0" transform="rotate(45 406.8 784.1)"/>
<rect x="404.3" y="784.1" width="5" height="5" fill="#b07ae0" transform="rotate(45 406.8 786.6)"/>
<rect x="404.3" y="786.6" width="5" height="5" fill="#b07ae0" transform="rotate(45 406.8 789.1)"/>
<rect x="404.3" y="789" width="5" height="5" fill="#b07ae0" transform="rotate(45 406.8 791.5)"/>
<rect x="404.3" y="790.9" width="5" height="5" fill="#b07ae0" transform="rotate(45 406.8 793.4)"/>
<line x1="487.2" y1="790.4" x2="487.2" y2="841.1" stroke="#d09c08" stroke-width="1.6"/>
<line x1="474.4" y1="790.4" x2="499.9" y2="790.4" stroke="#d09c08" stroke-width="1.6"/>
<line x1="474.4" y1="841.1" x2="499.9" y2="841.1" stroke="#d09c08" stroke-width="1.6"/>
<rect x="460.9" y="814.2" width="52.5" height="16.1" fill="#d09c08"/>
<rect x="484.4" y="817.5" width="5.5" height="5.5" fill="none" stroke="#222" stroke-width="1.1"/>
<line x1="460.9" y1="822.8" x2="513.5" y2="822.8" stroke="#111" stroke-width="2.4"/>
<rect x="484.7" y="546.2" width="5" height="5" fill="#d09c08" transform="rotate(45 487.2 548.7)"/>
<rect x="484.7" y="722.1" width="5" height="5" fill="#d09c08" transform="rotate(45 487.2 724.6)"/>
<rect x="484.7" y="735.8" width="5" height="5" fill="#d09c08" transform="rotate(45 487.2 738.3)"/>
<rect x="484.7" y="743.2" width="5" height="5" fill="#d09c08" transform="rotate(45 487.2 745.7)"/>
<rect x="484.7" y="746.9" width="5" height="5" fill="#d09c08" transform="rotate(45 487.2 749.4)"/>
<rect x="484.7" y="751.3" width="5" height="5" fill="#d09c08" transform="rotate(45 487.2 753.8)"/>
<rect x="484.7" y="754.3" width="5" height="5" fill="#d09c08" transform="rotate(45 487.2 756.8)"/>
<rect x="484.7" y="761.2" width="5" height="5" fill="#d09c08" transform="rotate(45 487.2 763.7)"/>
<rect x="484.7" y="764.3" width="5" height="5" fill="#d09c08" transform="rotate(45 487.2 766.8)"/>
<rect x="484.7" y="766.7" width="5" height="5" fill="#d09c08" transform="rotate(45 487.2 769.2)"/>
<rect x="484.7" y="769.2" width="5" height="5" fill="#d09c08" transform="rotate(45 487.2 771.7)"/>
<rect x="484.7" y="771.7" width="5" height="5" fill="#d09c08" transform="rotate(45 487.2 774.2)"/>
<rect x="484.7" y="774.2" width="5" height="5" fill="#d09c08" transform="rotate(45 487.2 776.7)"/>
<rect x="484.7" y="776.6" width="5" height="5" fill="#d09c08" transform="rotate(45 487.2 779.1)"/>
<rect x="484.7" y="779.1" width="5" height="5" fill="#d09c08" transform="rotate(45 487.2 781.6)"/>
<rect x="484.7" y="781.6" width="5" height="5" fill="#d09c08" transform="rotate(45 487.2 784.1)"/>
<rect x="484.7" y="784.1" width="5" height="5" fill="#d09c08" transform="rotate(45 487.2 786.6)"/>
<rect x="484.7" y="785.9" width="5" height="5" fill="#d09c08" transform="rotate(45 487.2 788.4)"/>
<rect x="484.7" y="787.8" width="5" height="5" fill="#d09c08" transform="rotate(45 487.2 790.3)"/>
<polyline points="85.2,811.3 165.6,815.3 246,799.4 326.4,822.6 406.8,822.6 487.2,820.3" fill="none" stroke="#111" stroke-width="2"/>
<line x1="45.2" y1="499.7" x2="45.2" y2="873.5" stroke="#262626" stroke-width="1.8"/>
<line x1="41" y1="872.7" x2="528.3" y2="872.7" stroke="#262626" stroke-width="1.8"/>
<line x1="38" y1="841.1" x2="45" y2="841.1" stroke="#262626" stroke-width="1.6"/>
<text transform="translate(31.8 847.7) scale(1 1.18)" font-family="'Liberation Serif', serif" font-size="15" fill="#4a4a4a" text-anchor="end">0</text>
<line x1="38" y1="779.1" x2="45" y2="779.1" stroke="#262626" stroke-width="1.6"/>
<text transform="translate(31.8 785.8) scale(1 1.18)" font-family="'Liberation Serif', serif" font-size="15" fill="#4a4a4a" text-anchor="end">1</text>
<line x1="38" y1="717.2" x2="45" y2="717.2" stroke="#262626" stroke-width="1.6"/>
<text transform="translate(31.8 723.8) scale(1 1.18)" font-family="'Liberation Serif', serif" font-size="15" fill="#4a4a4a" text-anchor="end">2</text>
<line x1="38" y1="655.2" x2="45" y2="655.2" stroke="#262626" stroke-width="1.6"/>
<text transform="translate(31.8 661.9) scale(1 1.18)" font-family="'Liberation Serif', serif" font-size="15" fill="#4a4a4a" text-anchor="end">3</text>
<line x1="38" y1="593.3" x2="45" y2="593.3" stroke="#262626" stroke-width="1.6"/>
<text transform="translate(31.8 599.9) scale(1 1.18)" font-family="'Liberation Serif', serif" font-size="15" fill="#4a4a4a" text-anchor="end">4</text>
<line x1="38" y1="531.4" x2="45" y2="531.4" stroke="#262626" stroke-width="1.6"/>
<text transform="translate(31.8 538) scale(1 1.18)" font-family="'Liberation Serif', serif" font-size="15" fill="#4a4a4a" text-anchor="end">5</text>
<line x1="40.8" y1="810.1" x2="45" y2="810.1" stroke="#262626" stroke-width="1.4"/>
<line x1="40.8" y1="748.2" x2="45" y2="748.2" stroke="#262626" stroke-width="1.4"/>
<line x1="40.8" y1="686.2" x2="45" y2="686.2" stroke="#262626" stroke-width="1.4"/>
<line x1="40.8" y1="624.3" x2="45" y2="624.3" stroke="#262626" stroke-width="1.4"/>
<line x1="40.8" y1="562.3" x2="45" y2="562.3" stroke="#262626" stroke-width="1.4"/>
<line x1="40.8" y1="500.4" x2="45" y2="500.4" stroke="#262626" stroke-width="1.4"/>
<line x1="85.2" y1="872.7" x2="85.2" y2="878.5" stroke="#262626" stroke-width="1.6"/>
<text x="85.2" y="897.5" font-family="'Liberation Sans', sans-serif" font-size="16.4" fill="#1a1a1a" text-anchor="middle">MTP</text>
<line x1="165.6" y1="872.7" x2="165.6" y2="878.5" stroke="#262626" stroke-width="1.6"/>
<text x="165.6" y="897.5" font-family="'Liberation Sans', sans-serif" font-size="16.4" fill="#1a1a1a" text-anchor="middle">Tripsacum</text>
<line x1="246" y1="872.7" x2="246" y2="878.5" stroke="#262626" stroke-width="1.6"/>
<text x="246" y="897.5" font-family="'Liberation Sans', sans-serif" font-size="16.4" fill="#1a1a1a" text-anchor="middle">Mexicana</text>
<line x1="326.4" y1="872.7" x2="326.4" y2="878.5" stroke="#262626" stroke-width="1.6"/>
<text x="326.4" y="897.5" font-family="'Liberation Sans', sans-serif" font-size="16.4" fill="#1a1a1a" text-anchor="middle">Oropetium</text>
<line x1="406.8" y1="872.7" x2="406.8" y2="878.5" stroke="#262626" stroke-width="1.6"/>
<text x="406.8" y="897.5" font-family="'Liberation Sans', sans-serif" font-size="16.4" fill="#1a1a1a" text-anchor="middle">Setaira</text>
<line x1="487.2" y1="872.7" x2="487.2" y2="878.5" stroke="#262626" stroke-width="1.6"/>
<text x="487.2" y="897.5" font-family="'Liberation Sans', sans-serif" font-size="16.4" fill="#1a1a1a" text-anchor="middle">Sorghum</text>
<text x="276" y="929.4" font-family="'Liberation Sans', sans-serif" font-size="20" fill="#1a1a1a" text-anchor="middle">Ka/Ks value in all orthologous genes</text>
<text transform="translate(16.2 686) rotate(-90)" font-family="'Liberation Sans', sans-serif" font-size="19" fill="#1a1a1a" text-anchor="middle">Ka/Ks ratio</text>
<text x="-1" y="515.5" font-family="'Liberation Sans', sans-serif" font-size="29" fill="#000">C</text>
<defs><clipPath id="dclip"><rect x="602.7" y="494.4" width="450.8" height="419"/></clipPath></defs>
<g clip-path="url(#dclip)">
<g fill="#f8766d"><circle cx="711.1" cy="802.8" r="3.25"/><circle cx="676.8" cy="805.3" r="3.25"/><circle cx="705.5" cy="761.6" r="3.25"/><circle cx="676.9" cy="798.7" r="3.25"/><circle cx="741.5" cy="765" r="3.25"/><circle cx="717" cy="752.3" r="3.25"/><circle cx="677.8" cy="776.5" r="3.25"/><circle cx="697.2" cy="793.7" r="3.25"/><circle cx="724.5" cy="774.6" r="3.25"/><circle cx="733.9" cy="735.4" r="3.25"/><circle cx="712.4" cy="766.5" r="3.25"/><circle cx="703.6" cy="793" r="3.25"/><circle cx="672.2" cy="809.9" r="3.25"/><circle cx="718.5" cy="797.5" r="3.25"/><circle cx="732.5" cy="778.8" r="3.25"/><circle cx="703.9" cy="754.8" r="3.25"/><circle cx="692.6" cy="803.6" r="3.25"/><circle cx="716" cy="783.8" r="3.25"/><circle cx="766.5" cy="746.2" r="3.25"/><circle cx="703.1" cy="792.2" r="3.25"/><circle cx="685.8" cy="797.9" r="3.25"/><circle cx="709.9" cy="790.7" r="3.25"/><circle cx="723.4" cy="771" r="3.25"/><circle cx="689.7" cy="828.1" r="3.25"/><circle cx="694.9" cy="820.8" r="3.25"/><circle cx="687.1" cy="798.6" r="3.25"/><circle cx="689.6" cy="818.2" r="3.25"/><circle cx="685.6" cy="804.8" r="3.25"/><circle cx="690.6" cy="758.8" r="3.25"/><circle cx="688.9" cy="826.6" r="3.25"/><circle cx="684.9" cy="823" r="3.25"/><circle cx="678.7" cy="804.6" r="3.25"/><circle cx="726.4" cy="780" r="3.25"/><circle cx="695.6" cy="772.4" r="3.25"/><circle cx="705.5" cy="819.2" r="3.25"/><circle cx="709.6" cy="734.3" r="3.25"/><circle cx="665.3" cy="804.7" r="3.25"/><circle cx="731.9" cy="765.8" r="3.25"/><circle cx="752.7" cy="745.9" r="3.25"/><circle cx="704.8" cy="796.2" r="3.25"/><circle cx="681.1" cy="795" r="3.25"/><circle cx="732.5" cy="738.2" r="3.25"/><circle cx="712" cy="780.8" r="3.25"/><circle cx="725.7" cy="738.2" r="3.25"/><circle cx="706.2" cy="790.2" r="3.25"/><circle cx="756.2" cy="750.5" r="3.25"/><circle cx="656.1" cy="806.9" r="3.25"/><circle cx="628.4" cy="879.1" r="3.25"/><circle cx="646.8" cy="825.9" r="3.25"/><circle cx="641.7" cy="848.2" r="3.25"/><circle cx="646" cy="830" r="3.25"/><circle cx="661" cy="797.1" r="3.25"/><circle cx="660.4" cy="811.3" r="3.25"/><circle cx="650.7" cy="822.2" r="3.25"/><circle cx="661.5" cy="866.3" r="3.25"/><circle cx="672.2" cy="862.7" r="3.25"/><circle cx="749.1" cy="828.6" r="3.25"/><circle cx="689.1" cy="792.2" r="3.25"/><circle cx="683" cy="833.3" r="3.25"/><circle cx="649.1" cy="845.8" r="3.25"/><circle cx="636" cy="876.2" r="3.25"/><circle cx="654.3" cy="853.1" r="3.25"/><circle cx="673.8" cy="827.5" r="3.25"/><circle cx="689.9" cy="817.6" r="3.25"/><circle cx="637" cy="875.5" r="3.25"/><circle cx="676.4" cy="804.3" r="3.25"/><circle cx="635.4" cy="876.3" r="3.25"/><circle cx="632.1" cy="881" r="3.25"/><circle cx="656.1" cy="835.6" r="3.25"/><circle cx="822" cy="689.4" r="3.25"/><circle cx="824.6" cy="700.3" r="3.25"/><circle cx="762.5" cy="717.2" r="3.25"/><circle cx="781.5" cy="720.5" r="3.25"/><circle cx="824.6" cy="728.1" r="3.25"/><circle cx="882" cy="723" r="3.25"/><circle cx="852.7" cy="736.2" r="3.25"/><circle cx="795.4" cy="793.9" r="3.25"/><circle cx="785.8" cy="797.5" r="3.25"/><circle cx="831.4" cy="805.1" r="3.25"/><circle cx="857" cy="804" r="3.25"/><circle cx="784.1" cy="859.7" r="3.25"/><circle cx="809.4" cy="867.8" r="3.25"/><circle cx="927.6" cy="630.2" r="3.25"/><circle cx="983.3" cy="669.9" r="3.25"/><circle cx="1033.2" cy="687.7" r="3.25"/><circle cx="882" cy="723.3" r="3.25"/><circle cx="964.6" cy="723.3" r="3.25"/><circle cx="853" cy="736.5" r="3.25"/><circle cx="857.3" cy="804" r="3.25"/><circle cx="945.7" cy="820.5" r="3.25"/><circle cx="737.8" cy="706.9" r="3.25"/><circle cx="708" cy="725.8" r="3.25"/><circle cx="666.6" cy="760.6" r="3.25"/><circle cx="683.5" cy="748.9" r="3.25"/><circle cx="752.3" cy="719.9" r="3.25"/><circle cx="761.8" cy="717.5" r="3.25"/><circle cx="781.6" cy="720.4" r="3.25"/><circle cx="748" cy="815.8" r="3.25"/><circle cx="717" cy="835.3" r="3.25"/><circle cx="702.7" cy="835.3" r="3.25"/><circle cx="745.4" cy="844.1" r="3.25"/><circle cx="702.2" cy="860.3" r="3.25"/><circle cx="682.7" cy="873.8" r="3.25"/><circle cx="690" cy="878" r="3.25"/><circle cx="683.6" cy="748.9" r="3.25"/><circle cx="666.3" cy="760.9" r="3.25"/><circle cx="707.9" cy="725.7" r="3.25"/><circle cx="697.7" cy="739.4" r="3.25"/><circle cx="693.9" cy="752.9" r="3.25"/><circle cx="697.3" cy="758" r="3.25"/><circle cx="680.8" cy="765.1" r="3.25"/><circle cx="690.5" cy="766" r="3.25"/><circle cx="696.4" cy="771.1" r="3.25"/><circle cx="736.1" cy="737.7" r="3.25"/><circle cx="726.8" cy="731.4" r="3.25"/><circle cx="729.7" cy="724.6" r="3.25"/><circle cx="736.5" cy="723.4" r="3.25"/><circle cx="723.8" cy="741.1" r="3.25"/><circle cx="720" cy="747.8" r="3.25"/><circle cx="733.5" cy="751.2" r="3.25"/><circle cx="742.8" cy="752" r="3.25"/><circle cx="747.9" cy="756.3" r="3.25"/><circle cx="739.5" cy="766.8" r="3.25"/><circle cx="734.4" cy="775.7" r="3.25"/><circle cx="720" cy="772.3" r="3.25"/><circle cx="717.5" cy="780.8" r="3.25"/><circle cx="738" cy="707.2" r="3.25"/><circle cx="752.3" cy="720.3" r="3.25"/><circle cx="762" cy="717.7" r="3.25"/><circle cx="765.4" cy="716" r="3.25"/><circle cx="736.7" cy="738" r="3.25"/><circle cx="748.9" cy="743" r="3.25"/><circle cx="763.7" cy="745.1" r="3.25"/><circle cx="781.4" cy="720.7" r="3.25"/></g>
<g fill="#619cff"><circle cx="741.5" cy="781.9" r="3.25"/><circle cx="672.7" cy="816.1" r="3.25"/><circle cx="742.1" cy="738.2" r="3.25"/><circle cx="744.1" cy="767.5" r="3.25"/><circle cx="740.5" cy="774.7" r="3.25"/><circle cx="710" cy="770.6" r="3.25"/><circle cx="700.4" cy="775.1" r="3.25"/><circle cx="684.3" cy="770.3" r="3.25"/><circle cx="704.7" cy="767.2" r="3.25"/><circle cx="628.1" cy="880.8" r="3.25"/><circle cx="630" cy="874.5" r="3.25"/><circle cx="671.4" cy="784.7" r="3.25"/><circle cx="632.6" cy="872.6" r="3.25"/><circle cx="651.7" cy="820.2" r="3.25"/><circle cx="656.9" cy="809.9" r="3.25"/><circle cx="648.4" cy="821.9" r="3.25"/><circle cx="672.2" cy="774" r="3.25"/><circle cx="665" cy="856.8" r="3.25"/><circle cx="656.1" cy="840.7" r="3.25"/><circle cx="629" cy="884.1" r="3.25"/><circle cx="627.3" cy="884.9" r="3.25"/><circle cx="658.2" cy="834.7" r="3.25"/><circle cx="824.6" cy="709.6" r="3.25"/><circle cx="778.5" cy="757.7" r="3.25"/><circle cx="775.2" cy="789.4" r="3.25"/><circle cx="831.4" cy="799.5" r="3.25"/><circle cx="830.4" cy="811.1" r="3.25"/><circle cx="763.5" cy="872.4" r="3.25"/><circle cx="736" cy="681.9" r="3.25"/><circle cx="716.4" cy="720.4" r="3.25"/><circle cx="745.2" cy="716.7" r="3.25"/><circle cx="744.1" cy="731.8" r="3.25"/><circle cx="728.5" cy="808.4" r="3.25"/><circle cx="722.2" cy="810.5" r="3.25"/><circle cx="705.9" cy="826.4" r="3.25"/><circle cx="699" cy="830.6" r="3.25"/><circle cx="698.5" cy="850.8" r="3.25"/><circle cx="717.8" cy="853" r="3.25"/><circle cx="763.9" cy="872.8" r="3.25"/><circle cx="695.3" cy="861" r="3.25"/><circle cx="681.6" cy="853.6" r="3.25"/><circle cx="678.5" cy="879.6" r="3.25"/><circle cx="703.2" cy="882.3" r="3.25"/><circle cx="714.8" cy="873.6" r="3.25"/><circle cx="712" cy="888.9" r="3.25"/><circle cx="747.5" cy="800.5" r="3.25"/><circle cx="716.4" cy="721" r="3.25"/><circle cx="713.3" cy="757.1" r="3.25"/><circle cx="696.2" cy="764.7" r="3.25"/><circle cx="690.5" cy="768.5" r="3.25"/><circle cx="662.7" cy="789.2" r="3.25"/><circle cx="744.1" cy="732.2" r="3.25"/><circle cx="734.4" cy="771.5" r="3.25"/><circle cx="716.7" cy="775.7" r="3.25"/><circle cx="745.1" cy="716.7" r="3.25"/><circle cx="744.3" cy="732.1" r="3.25"/><circle cx="752.7" cy="737.1" r="3.25"/><circle cx="778.5" cy="757.4" r="3.25"/><circle cx="754" cy="749.4" r="3.25"/></g>
<polygon points="619,896 624,890 633.6,870 642.8,850 652,830 660,812 666,795 672,785 684,778 696,770 708,766 716,776 720,788 712,805 703,818 694,830 685,842 672,855 664,870 660,882 652,892 620,896.5" fill="#00ba38"/>
<g fill="#00ba38"><circle cx="703.3" cy="801.7" r="3.25"/><circle cx="704.1" cy="802.8" r="3.25"/><circle cx="763.3" cy="744.8" r="3.25"/><circle cx="749.2" cy="769" r="3.25"/><circle cx="691.5" cy="826" r="3.25"/><circle cx="664.6" cy="815.1" r="3.25"/><circle cx="676.4" cy="779.3" r="3.25"/><circle cx="672.1" cy="799.6" r="3.25"/><circle cx="681.1" cy="776.1" r="3.25"/><circle cx="736" cy="755" r="3.25"/><circle cx="732.3" cy="741.9" r="3.25"/><circle cx="729.9" cy="738.8" r="3.25"/><circle cx="732.1" cy="789.5" r="3.25"/><circle cx="732.6" cy="792.5" r="3.25"/><circle cx="678.2" cy="788.6" r="3.25"/><circle cx="747.8" cy="765.7" r="3.25"/><circle cx="714.4" cy="766.3" r="3.25"/><circle cx="714" cy="762.6" r="3.25"/><circle cx="691.3" cy="817" r="3.25"/><circle cx="706.4" cy="745.9" r="3.25"/><circle cx="685.9" cy="765.7" r="3.25"/><circle cx="748.9" cy="761.8" r="3.25"/><circle cx="751.3" cy="765.8" r="3.25"/><circle cx="690.1" cy="826" r="3.25"/><circle cx="684.2" cy="781.8" r="3.25"/><circle cx="710.3" cy="758.1" r="3.25"/><circle cx="767.4" cy="740.1" r="3.25"/><circle cx="757.4" cy="736.9" r="3.25"/><circle cx="680.7" cy="790.3" r="3.25"/><circle cx="721.3" cy="800.3" r="3.25"/><circle cx="730.2" cy="741" r="3.25"/><circle cx="711.8" cy="757.7" r="3.25"/><circle cx="712.7" cy="797.7" r="3.25"/><circle cx="674.3" cy="795.1" r="3.25"/><circle cx="730.8" cy="744.1" r="3.25"/><circle cx="737.5" cy="784" r="3.25"/><circle cx="753.1" cy="756.1" r="3.25"/><circle cx="691" cy="748.7" r="3.25"/><circle cx="701.1" cy="771.2" r="3.25"/><circle cx="703.8" cy="792.7" r="3.25"/><circle cx="698.1" cy="816.6" r="3.25"/><circle cx="766.3" cy="746.4" r="3.25"/><circle cx="693.4" cy="827.6" r="3.25"/><circle cx="756.3" cy="765.9" r="3.25"/><circle cx="668.4" cy="816.7" r="3.25"/><circle cx="768.3" cy="754.2" r="3.25"/><circle cx="693.7" cy="789" r="3.25"/><circle cx="701.8" cy="798.1" r="3.25"/><circle cx="724.4" cy="741.8" r="3.25"/><circle cx="736.7" cy="738.1" r="3.25"/><circle cx="691.9" cy="787.3" r="3.25"/><circle cx="703.8" cy="781" r="3.25"/><circle cx="733.6" cy="773.8" r="3.25"/><circle cx="712.8" cy="785.9" r="3.25"/><circle cx="674.5" cy="784" r="3.25"/><circle cx="701.8" cy="820.5" r="3.25"/><circle cx="707.3" cy="806.3" r="3.25"/><circle cx="680.2" cy="813.2" r="3.25"/><circle cx="718.7" cy="754.7" r="3.25"/><circle cx="678.3" cy="813.1" r="3.25"/><circle cx="708.6" cy="771.1" r="3.25"/><circle cx="672.4" cy="810" r="3.25"/><circle cx="714.6" cy="752.9" r="3.25"/><circle cx="699" cy="743.8" r="3.25"/><circle cx="696.9" cy="823.2" r="3.25"/><circle cx="680.8" cy="824.8" r="3.25"/><circle cx="743.5" cy="778.1" r="3.25"/><circle cx="717.5" cy="791.3" r="3.25"/><circle cx="746.4" cy="737.5" r="3.25"/><circle cx="682" cy="803.4" r="3.25"/><circle cx="711.9" cy="776.4" r="3.25"/><circle cx="723.6" cy="750.2" r="3.25"/><circle cx="683.2" cy="790" r="3.25"/><circle cx="749.5" cy="767.4" r="3.25"/><circle cx="693.6" cy="810.8" r="3.25"/><circle cx="745.2" cy="740.7" r="3.25"/><circle cx="681.1" cy="818.9" r="3.25"/><circle cx="711.3" cy="741" r="3.25"/><circle cx="701" cy="765.1" r="3.25"/><circle cx="678.4" cy="794.6" r="3.25"/><circle cx="749.2" cy="755.2" r="3.25"/><circle cx="721.9" cy="801.6" r="3.25"/><circle cx="695.6" cy="755" r="3.25"/><circle cx="697.3" cy="748.4" r="3.25"/><circle cx="693.5" cy="813.6" r="3.25"/><circle cx="727.6" cy="734.1" r="3.25"/><circle cx="693.9" cy="785.5" r="3.25"/><circle cx="736.5" cy="740" r="3.25"/><circle cx="688" cy="780.9" r="3.25"/><circle cx="733.2" cy="734" r="3.25"/><circle cx="674.2" cy="792.8" r="3.25"/><circle cx="713" cy="786" r="3.25"/><circle cx="700.8" cy="806" r="3.25"/><circle cx="735.8" cy="773.6" r="3.25"/><circle cx="740.2" cy="760.7" r="3.25"/><circle cx="647.3" cy="833.7" r="3.25"/><circle cx="649.3" cy="826.2" r="3.25"/><circle cx="651.4" cy="816.7" r="3.25"/><circle cx="629.7" cy="877.9" r="3.25"/><circle cx="669.9" cy="784.8" r="3.25"/><circle cx="666" cy="790.9" r="3.25"/><circle cx="671" cy="782.5" r="3.25"/><circle cx="654.8" cy="806.4" r="3.25"/><circle cx="639.2" cy="858" r="3.25"/><circle cx="634.7" cy="867.8" r="3.25"/><circle cx="644.4" cy="833.9" r="3.25"/><circle cx="660.1" cy="797.6" r="3.25"/><circle cx="662.5" cy="782.2" r="3.25"/><circle cx="630.1" cy="874.6" r="3.25"/><circle cx="665.9" cy="776.2" r="3.25"/><circle cx="646.7" cy="831.1" r="3.25"/><circle cx="671.9" cy="785.2" r="3.25"/><circle cx="632.7" cy="869.6" r="3.25"/><circle cx="654.2" cy="815.3" r="3.25"/><circle cx="632.7" cy="865.4" r="3.25"/><circle cx="664.2" cy="783.9" r="3.25"/><circle cx="668.4" cy="780.2" r="3.25"/><circle cx="642.7" cy="838.9" r="3.25"/><circle cx="629.4" cy="876.9" r="3.25"/><circle cx="631.3" cy="871.5" r="3.25"/><circle cx="634.7" cy="867.7" r="3.25"/><circle cx="741.4" cy="807.4" r="3.25"/><circle cx="736.2" cy="826.8" r="3.25"/><circle cx="680.3" cy="863.7" r="3.25"/><circle cx="688.5" cy="840.4" r="3.25"/><circle cx="726.5" cy="840.7" r="3.25"/><circle cx="666.8" cy="851.2" r="3.25"/><circle cx="746.5" cy="777.6" r="3.25"/><circle cx="730.8" cy="849.3" r="3.25"/><circle cx="651.7" cy="858.5" r="3.25"/><circle cx="631.1" cy="877.9" r="3.25"/><circle cx="668.8" cy="824.6" r="3.25"/><circle cx="681.8" cy="802.7" r="3.25"/><circle cx="653.8" cy="834.2" r="3.25"/><circle cx="630.1" cy="880.1" r="3.25"/><circle cx="647.3" cy="851.9" r="3.25"/><circle cx="666.9" cy="799.3" r="3.25"/><circle cx="653.1" cy="834" r="3.25"/><circle cx="654.1" cy="845.3" r="3.25"/><circle cx="628.5" cy="887.8" r="3.25"/><circle cx="640.3" cy="863.9" r="3.25"/><circle cx="651.4" cy="857.7" r="3.25"/><circle cx="632.7" cy="876.6" r="3.25"/><circle cx="630" cy="884.6" r="3.25"/><circle cx="659.2" cy="820" r="3.25"/><circle cx="630.3" cy="885.1" r="3.25"/><circle cx="670.6" cy="809.1" r="3.25"/><circle cx="660" cy="829.6" r="3.25"/><circle cx="681.7" cy="791.8" r="3.25"/><circle cx="638.1" cy="866.3" r="3.25"/><circle cx="675.4" cy="803.9" r="3.25"/><circle cx="662.7" cy="850" r="3.25"/><circle cx="648.2" cy="864.7" r="3.25"/><circle cx="632.9" cy="879.1" r="3.25"/><circle cx="645.4" cy="852.3" r="3.25"/><circle cx="656.5" cy="844.5" r="3.25"/><circle cx="679.1" cy="828.8" r="3.25"/><circle cx="673.1" cy="824.8" r="3.25"/><circle cx="627.7" cy="887.1" r="3.25"/><circle cx="628.2" cy="886.7" r="3.25"/><circle cx="627.7" cy="886.4" r="3.25"/><circle cx="627.9" cy="884.9" r="3.25"/><circle cx="678.8" cy="795.6" r="3.25"/><circle cx="661.7" cy="823.7" r="3.25"/><circle cx="653.6" cy="840.9" r="3.25"/><circle cx="648.5" cy="864.4" r="3.25"/><circle cx="633.7" cy="879.4" r="3.25"/><circle cx="649.9" cy="836.2" r="3.25"/><circle cx="661.9" cy="833.7" r="3.25"/><circle cx="667.4" cy="803.2" r="3.25"/><circle cx="638.2" cy="874" r="3.25"/><circle cx="678.4" cy="828.7" r="3.25"/><circle cx="665.6" cy="820" r="3.25"/><circle cx="661.1" cy="819" r="3.25"/><circle cx="655.6" cy="850.1" r="3.25"/><circle cx="630.9" cy="878.2" r="3.25"/><circle cx="645.3" cy="852.8" r="3.25"/><circle cx="652.4" cy="841.5" r="3.25"/><circle cx="710.2" cy="802.3" r="3.25"/><circle cx="671.6" cy="815.1" r="3.25"/><circle cx="678.4" cy="811.1" r="3.25"/><circle cx="640.5" cy="871.9" r="3.25"/><circle cx="641.2" cy="873.5" r="3.25"/><circle cx="694.3" cy="793.2" r="3.25"/><circle cx="630.1" cy="884.7" r="3.25"/><circle cx="672.3" cy="819.9" r="3.25"/><circle cx="645.3" cy="852.3" r="3.25"/><circle cx="675.8" cy="822.9" r="3.25"/><circle cx="660.8" cy="840.6" r="3.25"/><circle cx="654.3" cy="850.2" r="3.25"/><circle cx="659.8" cy="840.8" r="3.25"/><circle cx="626.1" cy="887.4" r="3.25"/><circle cx="664.4" cy="827.9" r="3.25"/><circle cx="644.3" cy="850.3" r="3.25"/><circle cx="643" cy="872.2" r="3.25"/><circle cx="654.6" cy="850.2" r="3.25"/><circle cx="629.4" cy="880.7" r="3.25"/><circle cx="656.9" cy="846.2" r="3.25"/><circle cx="633.2" cy="883.6" r="3.25"/><circle cx="652.6" cy="841.5" r="3.25"/><circle cx="679.9" cy="818.2" r="3.25"/><circle cx="648.5" cy="848.7" r="3.25"/><circle cx="648.3" cy="866.4" r="3.25"/><circle cx="681.7" cy="794.9" r="3.25"/><circle cx="646.2" cy="862.1" r="3.25"/><circle cx="670.3" cy="817.7" r="3.25"/><circle cx="629.3" cy="883.8" r="3.25"/><circle cx="634.5" cy="875.7" r="3.25"/><circle cx="630.3" cy="884.2" r="3.25"/><circle cx="636.1" cy="869.2" r="3.25"/><circle cx="632.2" cy="878.1" r="3.25"/><circle cx="647" cy="847.2" r="3.25"/><circle cx="661.4" cy="847.3" r="3.25"/><circle cx="651.7" cy="855.7" r="3.25"/><circle cx="645.4" cy="860.3" r="3.25"/><circle cx="661.8" cy="835.5" r="3.25"/><circle cx="643.1" cy="856" r="3.25"/><circle cx="645.3" cy="854.3" r="3.25"/><circle cx="662.2" cy="827.1" r="3.25"/><circle cx="630" cy="883.7" r="3.25"/><circle cx="661.4" cy="850.2" r="3.25"/><circle cx="629.5" cy="881.5" r="3.25"/><circle cx="645.2" cy="859.2" r="3.25"/><circle cx="629.7" cy="883.5" r="3.25"/><circle cx="650.6" cy="852.7" r="3.25"/><circle cx="623.8" cy="892.3" r="3.25"/><circle cx="667.5" cy="822.1" r="3.25"/><circle cx="674.3" cy="804.5" r="3.25"/><circle cx="679.9" cy="799.8" r="3.25"/><circle cx="640.6" cy="870.8" r="3.25"/><circle cx="639.9" cy="860.1" r="3.25"/><circle cx="651.5" cy="841.5" r="3.25"/><circle cx="658.6" cy="833.5" r="3.25"/><circle cx="656.2" cy="851.2" r="3.25"/><circle cx="642.4" cy="863.6" r="3.25"/><circle cx="685" cy="814.9" r="3.25"/><circle cx="658.5" cy="850.3" r="3.25"/><circle cx="658" cy="824.7" r="3.25"/><circle cx="640.7" cy="857" r="3.25"/><circle cx="627.7" cy="888" r="3.25"/><circle cx="675.8" cy="819.2" r="3.25"/><circle cx="637.8" cy="872.5" r="3.25"/><circle cx="619.5" cy="893.6" r="3.25"/><circle cx="623.2" cy="889.5" r="3.25"/><circle cx="622.2" cy="891.5" r="3.25"/><circle cx="629" cy="881.8" r="3.25"/><circle cx="628.5" cy="879.9" r="3.25"/><circle cx="630.8" cy="878.8" r="3.25"/><circle cx="630.8" cy="878.6" r="3.25"/><circle cx="633.7" cy="869.1" r="3.25"/><circle cx="633.4" cy="866.8" r="3.25"/><circle cx="633.7" cy="865.3" r="3.25"/><circle cx="636.9" cy="862.6" r="3.25"/><circle cx="639.1" cy="858.3" r="3.25"/><circle cx="639.7" cy="855.2" r="3.25"/><circle cx="642.7" cy="853.3" r="3.25"/><circle cx="644.8" cy="845.8" r="3.25"/><circle cx="647.4" cy="844.8" r="3.25"/><circle cx="647.5" cy="843.8" r="3.25"/><circle cx="646.9" cy="839" r="3.25"/><circle cx="647.9" cy="832.9" r="3.25"/><circle cx="651.3" cy="832.5" r="3.25"/><circle cx="650.9" cy="827.8" r="3.25"/><circle cx="652.8" cy="821.7" r="3.25"/><circle cx="654.5" cy="820.2" r="3.25"/><circle cx="655.2" cy="818.5" r="3.25"/><circle cx="658" cy="814.1" r="3.25"/><circle cx="659.5" cy="812.6" r="3.25"/><circle cx="660.9" cy="804.1" r="3.25"/><circle cx="664.9" cy="804.9" r="3.25"/><circle cx="662.8" cy="803.2" r="3.25"/><circle cx="665.6" cy="793.8" r="3.25"/><circle cx="668.2" cy="794.1" r="3.25"/><circle cx="670.1" cy="788.6" r="3.25"/><circle cx="671.4" cy="787.5" r="3.25"/><circle cx="676" cy="782" r="3.25"/><circle cx="678.8" cy="782.8" r="3.25"/><circle cx="680.9" cy="780.3" r="3.25"/><circle cx="687.1" cy="774.8" r="3.25"/><circle cx="686.5" cy="774.3" r="3.25"/><circle cx="692.1" cy="775.7" r="3.25"/><circle cx="692.4" cy="769.4" r="3.25"/><circle cx="699.7" cy="769.4" r="3.25"/><circle cx="701.5" cy="765.6" r="3.25"/><circle cx="705.4" cy="767.9" r="3.25"/><circle cx="709.4" cy="767" r="3.25"/><circle cx="712" cy="771.9" r="3.25"/><circle cx="713.7" cy="774.1" r="3.25"/><circle cx="715.8" cy="781.3" r="3.25"/><circle cx="718.2" cy="783.2" r="3.25"/><circle cx="718.2" cy="784.5" r="3.25"/><circle cx="717.5" cy="789.7" r="3.25"/><circle cx="716.8" cy="792" r="3.25"/><circle cx="714.3" cy="796" r="3.25"/><circle cx="712.9" cy="798.4" r="3.25"/><circle cx="713.7" cy="804.5" r="3.25"/><circle cx="710.5" cy="809.8" r="3.25"/><circle cx="710.8" cy="808.7" r="3.25"/><circle cx="707.4" cy="816.2" r="3.25"/><circle cx="704.4" cy="816.6" r="3.25"/><circle cx="702.9" cy="821.1" r="3.25"/><circle cx="701.3" cy="822.6" r="3.25"/><circle cx="699" cy="824.2" r="3.25"/><circle cx="695.4" cy="828.5" r="3.25"/><circle cx="692.3" cy="831.4" r="3.25"/><circle cx="692.1" cy="832.7" r="3.25"/><circle cx="687.9" cy="839.9" r="3.25"/><circle cx="686.7" cy="843.5" r="3.25"/><circle cx="684.2" cy="844.3" r="3.25"/><circle cx="679.8" cy="846.4" r="3.25"/><circle cx="677.4" cy="849" r="3.25"/><circle cx="674.5" cy="852.8" r="3.25"/><circle cx="670.3" cy="854.9" r="3.25"/><circle cx="671.6" cy="858.5" r="3.25"/><circle cx="667.9" cy="860.8" r="3.25"/><circle cx="664.7" cy="863.7" r="3.25"/><circle cx="666.4" cy="867.5" r="3.25"/><circle cx="661.9" cy="873.6" r="3.25"/><circle cx="660.6" cy="877.1" r="3.25"/><circle cx="658.7" cy="881.1" r="3.25"/><circle cx="656.7" cy="884.4" r="3.25"/><circle cx="655.8" cy="886.5" r="3.25"/><circle cx="655.9" cy="888.3" r="3.25"/><circle cx="649.5" cy="891.2" r="3.25"/><circle cx="649" cy="894" r="3.25"/><circle cx="645.2" cy="893.5" r="3.25"/><circle cx="639.2" cy="894.3" r="3.25"/><circle cx="635.6" cy="894.7" r="3.25"/><circle cx="633" cy="896.6" r="3.25"/><circle cx="628.7" cy="897" r="3.25"/><circle cx="626.8" cy="894.2" r="3.25"/><circle cx="619.1" cy="897.8" r="3.25"/><circle cx="618.7" cy="895.8" r="3.25"/><circle cx="786.3" cy="658.2" r="3.25"/><circle cx="809.9" cy="663.3" r="3.25"/><circle cx="808.1" cy="666.1" r="3.25"/><circle cx="802.5" cy="672.9" r="3.25"/><circle cx="762" cy="681" r="3.25"/><circle cx="824.6" cy="679.2" r="3.25"/><circle cx="830.9" cy="678" r="3.25"/><circle cx="816.7" cy="685.6" r="3.25"/><circle cx="840" cy="686.8" r="3.25"/><circle cx="781.3" cy="697.2" r="3.25"/><circle cx="820.8" cy="701.5" r="3.25"/><circle cx="782.8" cy="705.3" r="3.25"/><circle cx="816.2" cy="705.8" r="3.25"/><circle cx="825.3" cy="713.9" r="3.25"/><circle cx="894.9" cy="701.5" r="3.25"/><circle cx="805.6" cy="714.9" r="3.25"/><circle cx="843.5" cy="710.4" r="3.25"/><circle cx="768.1" cy="718" r="3.25"/><circle cx="786.6" cy="720.5" r="3.25"/><circle cx="796.7" cy="726.6" r="3.25"/><circle cx="822.8" cy="727.3" r="3.25"/><circle cx="847.8" cy="720.5" r="3.25"/><circle cx="884.6" cy="733.7" r="3.25"/><circle cx="760" cy="728.6" r="3.25"/><circle cx="766.8" cy="730.6" r="3.25"/><circle cx="760" cy="742.5" r="3.25"/><circle cx="770.1" cy="741.8" r="3.25"/><circle cx="779.7" cy="744.6" r="3.25"/><circle cx="802.5" cy="744.6" r="3.25"/><circle cx="815.2" cy="747.1" r="3.25"/><circle cx="782.8" cy="751.4" r="3.25"/><circle cx="763.8" cy="759" r="3.25"/><circle cx="785.3" cy="756.5" r="3.25"/><circle cx="820.3" cy="765.8" r="3.25"/><circle cx="857.2" cy="772.7" r="3.25"/><circle cx="773.9" cy="779.7" r="3.25"/><circle cx="780.8" cy="780.5" r="3.25"/><circle cx="768.1" cy="784.3" r="3.25"/><circle cx="783.3" cy="794.9" r="3.25"/><circle cx="772.7" cy="802" r="3.25"/><circle cx="771.4" cy="809.1" r="3.25"/><circle cx="845.1" cy="809.6" r="3.25"/><circle cx="862.5" cy="804.6" r="3.25"/><circle cx="883" cy="817.2" r="3.25"/><circle cx="881" cy="823.8" r="3.25"/><circle cx="760" cy="819.7" r="3.25"/><circle cx="808.4" cy="834.4" r="3.25"/><circle cx="853.9" cy="832.4" r="3.25"/><circle cx="847.6" cy="837.5" r="3.25"/><circle cx="823.3" cy="847.6" r="3.25"/><circle cx="867.1" cy="852.2" r="3.25"/><circle cx="868.4" cy="859.7" r="3.25"/><circle cx="891.6" cy="856.5" r="3.25"/><circle cx="762" cy="859" r="3.25"/><circle cx="781.3" cy="855.2" r="3.25"/><circle cx="778" cy="869.1" r="3.25"/><circle cx="914.7" cy="599.6" r="3.25"/><circle cx="895.2" cy="701.7" r="3.25"/><circle cx="914.2" cy="711" r="3.25"/><circle cx="976.3" cy="721" r="3.25"/><circle cx="885" cy="733.5" r="3.25"/><circle cx="917" cy="738.8" r="3.25"/><circle cx="983.3" cy="747.8" r="3.25"/><circle cx="857.3" cy="773" r="3.25"/><circle cx="921.5" cy="775.3" r="3.25"/><circle cx="946.2" cy="789.8" r="3.25"/><circle cx="862.3" cy="804.4" r="3.25"/><circle cx="934.6" cy="807.3" r="3.25"/><circle cx="883" cy="817.2" r="3.25"/><circle cx="881.2" cy="824.2" r="3.25"/><circle cx="945.7" cy="819.6" r="3.25"/><circle cx="854" cy="832.4" r="3.25"/><circle cx="867" cy="852" r="3.25"/><circle cx="868.4" cy="859.8" r="3.25"/><circle cx="891.7" cy="856.6" r="3.25"/><circle cx="744.4" cy="657.7" r="3.25"/><circle cx="786.4" cy="658.2" r="3.25"/><circle cx="761.4" cy="681.1" r="3.25"/><circle cx="781.3" cy="697" r="3.25"/><circle cx="782.9" cy="704.9" r="3.25"/><circle cx="755.8" cy="708.8" r="3.25"/><circle cx="714.7" cy="709.6" r="3.25"/><circle cx="699.7" cy="716.7" r="3.25"/><circle cx="673.7" cy="733" r="3.25"/><circle cx="726.2" cy="718.3" r="3.25"/><circle cx="733.4" cy="717.5" r="3.25"/><circle cx="757.1" cy="721.5" r="3.25"/><circle cx="768.2" cy="717.8" r="3.25"/><circle cx="786.4" cy="719.9" r="3.25"/><circle cx="736.8" cy="729.9" r="3.25"/><circle cx="753.1" cy="726.2" r="3.25"/><circle cx="760.3" cy="728.6" r="3.25"/><circle cx="766.6" cy="731" r="3.25"/><circle cx="738" cy="806.9" r="3.25"/><circle cx="743.3" cy="810" r="3.25"/><circle cx="724.3" cy="814.8" r="3.25"/><circle cx="727.5" cy="816.9" r="3.25"/><circle cx="758.6" cy="819.8" r="3.25"/><circle cx="732.8" cy="825.8" r="3.25"/><circle cx="730.1" cy="830" r="3.25"/><circle cx="709.6" cy="833.5" r="3.25"/><circle cx="717" cy="839" r="3.25"/><circle cx="723.3" cy="836.9" r="3.25"/><circle cx="726.4" cy="840.1" r="3.25"/><circle cx="701.1" cy="838.5" r="3.25"/><circle cx="693.7" cy="838" r="3.25"/><circle cx="709.6" cy="844.8" r="3.25"/><circle cx="709" cy="854.3" r="3.25"/><circle cx="730.4" cy="850.4" r="3.25"/><circle cx="747.5" cy="844.3" r="3.25"/><circle cx="761.8" cy="859.6" r="3.25"/><circle cx="778.1" cy="869.1" r="3.25"/><circle cx="689.5" cy="856.4" r="3.25"/><circle cx="691.1" cy="862.2" r="3.25"/><circle cx="688" cy="846.4" r="3.25"/><circle cx="677.9" cy="857.5" r="3.25"/><circle cx="682.1" cy="864.5" r="3.25"/><circle cx="684.8" cy="869.6" r="3.25"/><circle cx="669" cy="869.6" r="3.25"/><circle cx="673.7" cy="883.3" r="3.25"/><circle cx="677.4" cy="886.5" r="3.25"/><circle cx="683.2" cy="882.3" r="3.25"/><circle cx="701.1" cy="877" r="3.25"/><circle cx="701.1" cy="884.9" r="3.25"/><circle cx="717.5" cy="882.8" r="3.25"/><circle cx="775" cy="802.6" r="3.25"/><circle cx="771.8" cy="809.5" r="3.25"/><circle cx="673.9" cy="733.1" r="3.25"/><circle cx="692" cy="737.3" r="3.25"/><circle cx="704.9" cy="736.5" r="3.25"/><circle cx="696" cy="745.7" r="3.25"/><circle cx="700.6" cy="741.9" r="3.25"/><circle cx="705.7" cy="743.2" r="3.25"/><circle cx="710.8" cy="749.5" r="3.25"/><circle cx="715.8" cy="752" r="3.25"/><circle cx="692.2" cy="757.6" r="3.25"/><circle cx="670.3" cy="773.6" r="3.25"/><circle cx="669.4" cy="779.9" r="3.25"/><circle cx="668.6" cy="785" r="3.25"/><circle cx="736.5" cy="729.7" r="3.25"/><circle cx="746.6" cy="736.5" r="3.25"/><circle cx="739.5" cy="744.5" r="3.25"/><circle cx="729.3" cy="738.6" r="3.25"/><circle cx="724.3" cy="732.7" r="3.25"/><circle cx="728.9" cy="721.7" r="3.25"/><circle cx="736.1" cy="721.7" r="3.25"/><circle cx="714.1" cy="738.6" r="3.25"/><circle cx="720" cy="739.4" r="3.25"/><circle cx="726" cy="747.8" r="3.25"/><circle cx="730.2" cy="752" r="3.25"/><circle cx="729.3" cy="757.1" r="3.25"/><circle cx="739.5" cy="755.4" r="3.25"/><circle cx="743.7" cy="755.4" r="3.25"/><circle cx="746.2" cy="760.5" r="3.25"/><circle cx="721.7" cy="762.2" r="3.25"/><circle cx="727.6" cy="763" r="3.25"/><circle cx="734.4" cy="764.7" r="3.25"/><circle cx="737.8" cy="765.6" r="3.25"/><circle cx="730.2" cy="779.9" r="3.25"/><circle cx="723.4" cy="776.5" r="3.25"/><circle cx="720" cy="767.3" r="3.25"/><circle cx="744.5" cy="794.3" r="3.25"/><circle cx="756.1" cy="708.9" r="3.25"/><circle cx="768.3" cy="717.9" r="3.25"/><circle cx="757.6" cy="721.1" r="3.25"/><circle cx="753.1" cy="726.2" r="3.25"/><circle cx="760.7" cy="728.7" r="3.25"/><circle cx="766.9" cy="731.1" r="3.25"/><circle cx="736.7" cy="730" r="3.25"/><circle cx="739.2" cy="744.7" r="3.25"/><circle cx="746.8" cy="737.1" r="3.25"/><circle cx="751" cy="740.5" r="3.25"/><circle cx="756.9" cy="742.2" r="3.25"/><circle cx="761.2" cy="741.8" r="3.25"/><circle cx="770.4" cy="741.4" r="3.25"/><circle cx="773.8" cy="743" r="3.25"/><circle cx="778.9" cy="745.6" r="3.25"/><circle cx="786.6" cy="719.8" r="3.25"/><circle cx="796.6" cy="726.6" r="3.25"/><circle cx="782.7" cy="705.1" r="3.25"/><circle cx="805.9" cy="714.8" r="3.25"/><circle cx="782.7" cy="751.5" r="3.25"/><circle cx="785.6" cy="755.7" r="3.25"/><circle cx="802.5" cy="745.6" r="3.25"/><circle cx="813.9" cy="747.3" r="3.25"/><circle cx="756.9" cy="751.9" r="3.25"/><circle cx="751.9" cy="753.6" r="3.25"/><circle cx="740.1" cy="754.9" r="3.25"/><circle cx="742.6" cy="753.2" r="3.25"/><circle cx="764.1" cy="759.1" r="3.25"/><circle cx="773.8" cy="779.3" r="3.25"/><circle cx="780.6" cy="779.3" r="3.25"/></g>
<g fill="#619cff"><circle cx="702.5" cy="793.9" r="1.6"/><circle cx="663.1" cy="852.1" r="1.6"/><circle cx="656.9" cy="830.7" r="1.7"/><circle cx="686.5" cy="815.1" r="1.1"/><circle cx="634.4" cy="871" r="1.1"/><circle cx="652.5" cy="839.1" r="1.2"/><circle cx="664.3" cy="815.9" r="1.1"/><circle cx="692.7" cy="819.4" r="1.8"/><circle cx="703.5" cy="787" r="1.1"/><circle cx="658.3" cy="844.4" r="1.2"/><circle cx="707.8" cy="799.9" r="1.4"/><circle cx="686.3" cy="802.8" r="1.3"/><circle cx="643.4" cy="881.6" r="1.3"/><circle cx="683.5" cy="818.1" r="1.6"/><circle cx="684.4" cy="806.1" r="1.8"/><circle cx="666.6" cy="830.8" r="1.2"/><circle cx="703.3" cy="805.1" r="1.7"/><circle cx="650.4" cy="884.6" r="1.5"/><circle cx="653.3" cy="858" r="1.3"/><circle cx="700.8" cy="770.5" r="1.7"/><circle cx="652.4" cy="864.6" r="1.8"/></g>
<g fill="#f8766d"><circle cx="708.9" cy="771" r="1.1"/><circle cx="635.9" cy="876.6" r="1.7"/><circle cx="698.5" cy="813.8" r="1.3"/><circle cx="701.7" cy="770.8" r="1.9"/><circle cx="678.5" cy="845.5" r="1.4"/><circle cx="702.1" cy="781.4" r="1.6"/><circle cx="681.3" cy="786.8" r="1.6"/><circle cx="690.7" cy="782.1" r="1.4"/><circle cx="644.1" cy="875.4" r="1.2"/><circle cx="679.6" cy="791.7" r="1.6"/></g>
<g fill="#fff"><circle cx="673.9" cy="816.9" r="1.2"/><circle cx="703" cy="807.8" r="1.8"/><circle cx="654.9" cy="878" r="1.2"/><circle cx="651.9" cy="851.6" r="1.9"/><circle cx="658.6" cy="850.1" r="1.9"/><circle cx="713.8" cy="791.2" r="1.3"/><circle cx="654.9" cy="850.8" r="1.2"/><circle cx="643.8" cy="861.1" r="1.4"/><circle cx="678.3" cy="843.7" r="1.7"/><circle cx="654.6" cy="838.4" r="1.4"/><circle cx="661.1" cy="835.2" r="1.5"/><circle cx="653.3" cy="862.1" r="1.7"/><circle cx="651" cy="837.3" r="1.3"/><circle cx="674.4" cy="805.3" r="1.5"/><circle cx="639.7" cy="877.6" r="1.6"/><circle cx="694.3" cy="773.1" r="1.2"/><circle cx="706.9" cy="778.2" r="1.2"/><circle cx="711.1" cy="794.6" r="1.6"/><circle cx="646.5" cy="842.1" r="1.3"/><circle cx="661.8" cy="832.7" r="1"/><circle cx="661.2" cy="817.2" r="1.7"/><circle cx="651.9" cy="863.2" r="1.6"/><circle cx="686.1" cy="832.2" r="1.1"/><circle cx="670.1" cy="826.2" r="1.1"/><circle cx="642.4" cy="879.2" r="1.5"/><circle cx="645.1" cy="850.1" r="1"/><circle cx="652.4" cy="873.1" r="1.6"/><circle cx="633.1" cy="873.7" r="1.3"/><circle cx="677.8" cy="793.8" r="1.1"/></g>
<polygon points="622.7,880.9 675.7,836.3 781.6,740.4 908.6,625.7 1033.7,514 1033.7,543.4 908.6,647.7 781.6,752.4 675.7,842.3 622.7,888.9" fill="#999" fill-opacity="0.38"/>
<polygon points="622.7,886.1 675.7,840.5 781.6,754.7 887.5,667.8 983.3,591.3 983.3,610.3 887.5,684.8 781.6,764.7 675.7,845.5 622.7,892.1" fill="#999" fill-opacity="0.38"/>
<polygon points="622.7,891.2 675.7,838.5 749.8,762.6 831.9,677.9 831.9,688.9 749.8,769.6 675.7,842.5 622.7,896.2" fill="#999" fill-opacity="0.38"/>
<path d="M622.7 889.1 C631.5 881.4 649.2 864.6 675.7 843 C702.1 821.5 746.3 787.5 781.6 759.7 C816.9 731.9 853.8 702.8 887.5 676.3 C921.1 649.8 967.3 613.4 983.3 600.8" fill="none" stroke="#00ba38" stroke-width="3.4"/>
<path d="M622.7 884.9 C631.5 877.3 649.2 862.4 675.7 839.3 C702.1 816.3 742.7 780.2 781.6 746.4 C820.4 712.6 866.6 673 908.6 636.7 C950.7 600.4 1012.9 546.7 1033.7 528.7" fill="none" stroke="#f8766d" stroke-width="3.4"/>
<path d="M622.7 893.7 C631.5 884.8 654.5 861.8 675.7 840.5 C696.8 819.2 723.7 792.3 749.8 766.1 C775.8 739.9 818.2 697.2 831.9 683.4" fill="none" stroke="#619cff" stroke-width="3.4"/>
<line x1="613.6" y1="913.4" x2="806.2" y2="494.4" stroke="#000" stroke-width="1.6"/>
</g>
<rect x="602.7" y="494.4" width="450.8" height="419" fill="none" stroke="#333" stroke-width="1.2"/>
<line x1="598.9" y1="893.7" x2="602.7" y2="893.7" stroke="#333" stroke-width="1.1"/>
<text x="595" y="898" font-family="'Liberation Sans', sans-serif" font-size="12" fill="#4d4d4d" text-anchor="end">0.0</text>
<line x1="598.9" y1="778.6" x2="602.7" y2="778.6" stroke="#333" stroke-width="1.1"/>
<text x="595" y="782.9" font-family="'Liberation Sans', sans-serif" font-size="12" fill="#4d4d4d" text-anchor="end">0.5</text>
<line x1="598.9" y1="663.4" x2="602.7" y2="663.4" stroke="#333" stroke-width="1.1"/>
<text x="595" y="667.7" font-family="'Liberation Sans', sans-serif" font-size="12" fill="#4d4d4d" text-anchor="end">1.0</text>
<line x1="598.9" y1="548.2" x2="602.7" y2="548.2" stroke="#333" stroke-width="1.1"/>
<text x="595" y="552.5" font-family="'Liberation Sans', sans-serif" font-size="12" fill="#4d4d4d" text-anchor="end">1.5</text>
<line x1="622.7" y1="913.4" x2="622.7" y2="917.1" stroke="#333" stroke-width="1.1"/>
<text x="622.7" y="929.6" font-family="'Liberation Sans', sans-serif" font-size="12" fill="#4d4d4d" text-anchor="middle">0</text>
<line x1="728.6" y1="913.4" x2="728.6" y2="917.1" stroke="#333" stroke-width="1.1"/>
<text x="728.6" y="929.6" font-family="'Liberation Sans', sans-serif" font-size="12" fill="#4d4d4d" text-anchor="middle">1</text>
<line x1="834.5" y1="913.4" x2="834.5" y2="917.1" stroke="#333" stroke-width="1.1"/>
<text x="834.5" y="929.6" font-family="'Liberation Sans', sans-serif" font-size="12" fill="#4d4d4d" text-anchor="middle">2</text>
<line x1="940.4" y1="913.4" x2="940.4" y2="917.1" stroke="#333" stroke-width="1.1"/>
<text x="940.4" y="929.6" font-family="'Liberation Sans', sans-serif" font-size="12" fill="#4d4d4d" text-anchor="middle">3</text>
<line x1="1046.3" y1="913.4" x2="1046.3" y2="917.1" stroke="#333" stroke-width="1.1"/>
<text x="1046.3" y="929.6" font-family="'Liberation Sans', sans-serif" font-size="12" fill="#4d4d4d" text-anchor="middle">4</text>
<text x="828.3" y="947.2" font-family="'Liberation Sans', sans-serif" font-size="15" fill="#000" text-anchor="middle">Ks</text>
<text transform="translate(570.7 703.3) rotate(-90)" font-family="'Liberation Sans', sans-serif" font-size="15" fill="#000" text-anchor="middle">Ka</text>
<text x="558.5" y="514.8" font-family="'Liberation Sans', sans-serif" font-size="29" fill="#000">D</text>
<text x="1069.3" y="669" font-family="'Liberation Sans', sans-serif" font-size="15.4" fill="#000">Species</text>
<rect x="1069.3" y="679" width="24.2" height="73" fill="#d9d9d9"/>
<line x1="1072" y1="690.8" x2="1091" y2="690.8" stroke="#f8766d" stroke-width="3"/>
<circle cx="1081.5" cy="690.8" r="2.8" fill="#f8766d"/>
<text x="1101.4" y="695.3" font-family="'Liberation Sans', sans-serif" font-size="12.5" fill="#000">MTP−Maize</text>
<line x1="1072" y1="715" x2="1091" y2="715" stroke="#00ba38" stroke-width="3"/>
<circle cx="1081.5" cy="715" r="2.8" fill="#00ba38"/>
<text x="1101.4" y="719.5" font-family="'Liberation Sans', sans-serif" font-size="12.5" fill="#000">MTP−Tripsacum</text>
<line x1="1072" y1="739.2" x2="1091" y2="739.2" stroke="#619cff" stroke-width="3"/>
<circle cx="1081.5" cy="739.2" r="2.8" fill="#619cff"/>
<text x="1101.4" y="743.7" font-family="'Liberation Sans', sans-serif" font-size="12.5" fill="#000">Tripsacum−Maize</text>
</svg></body></html>
